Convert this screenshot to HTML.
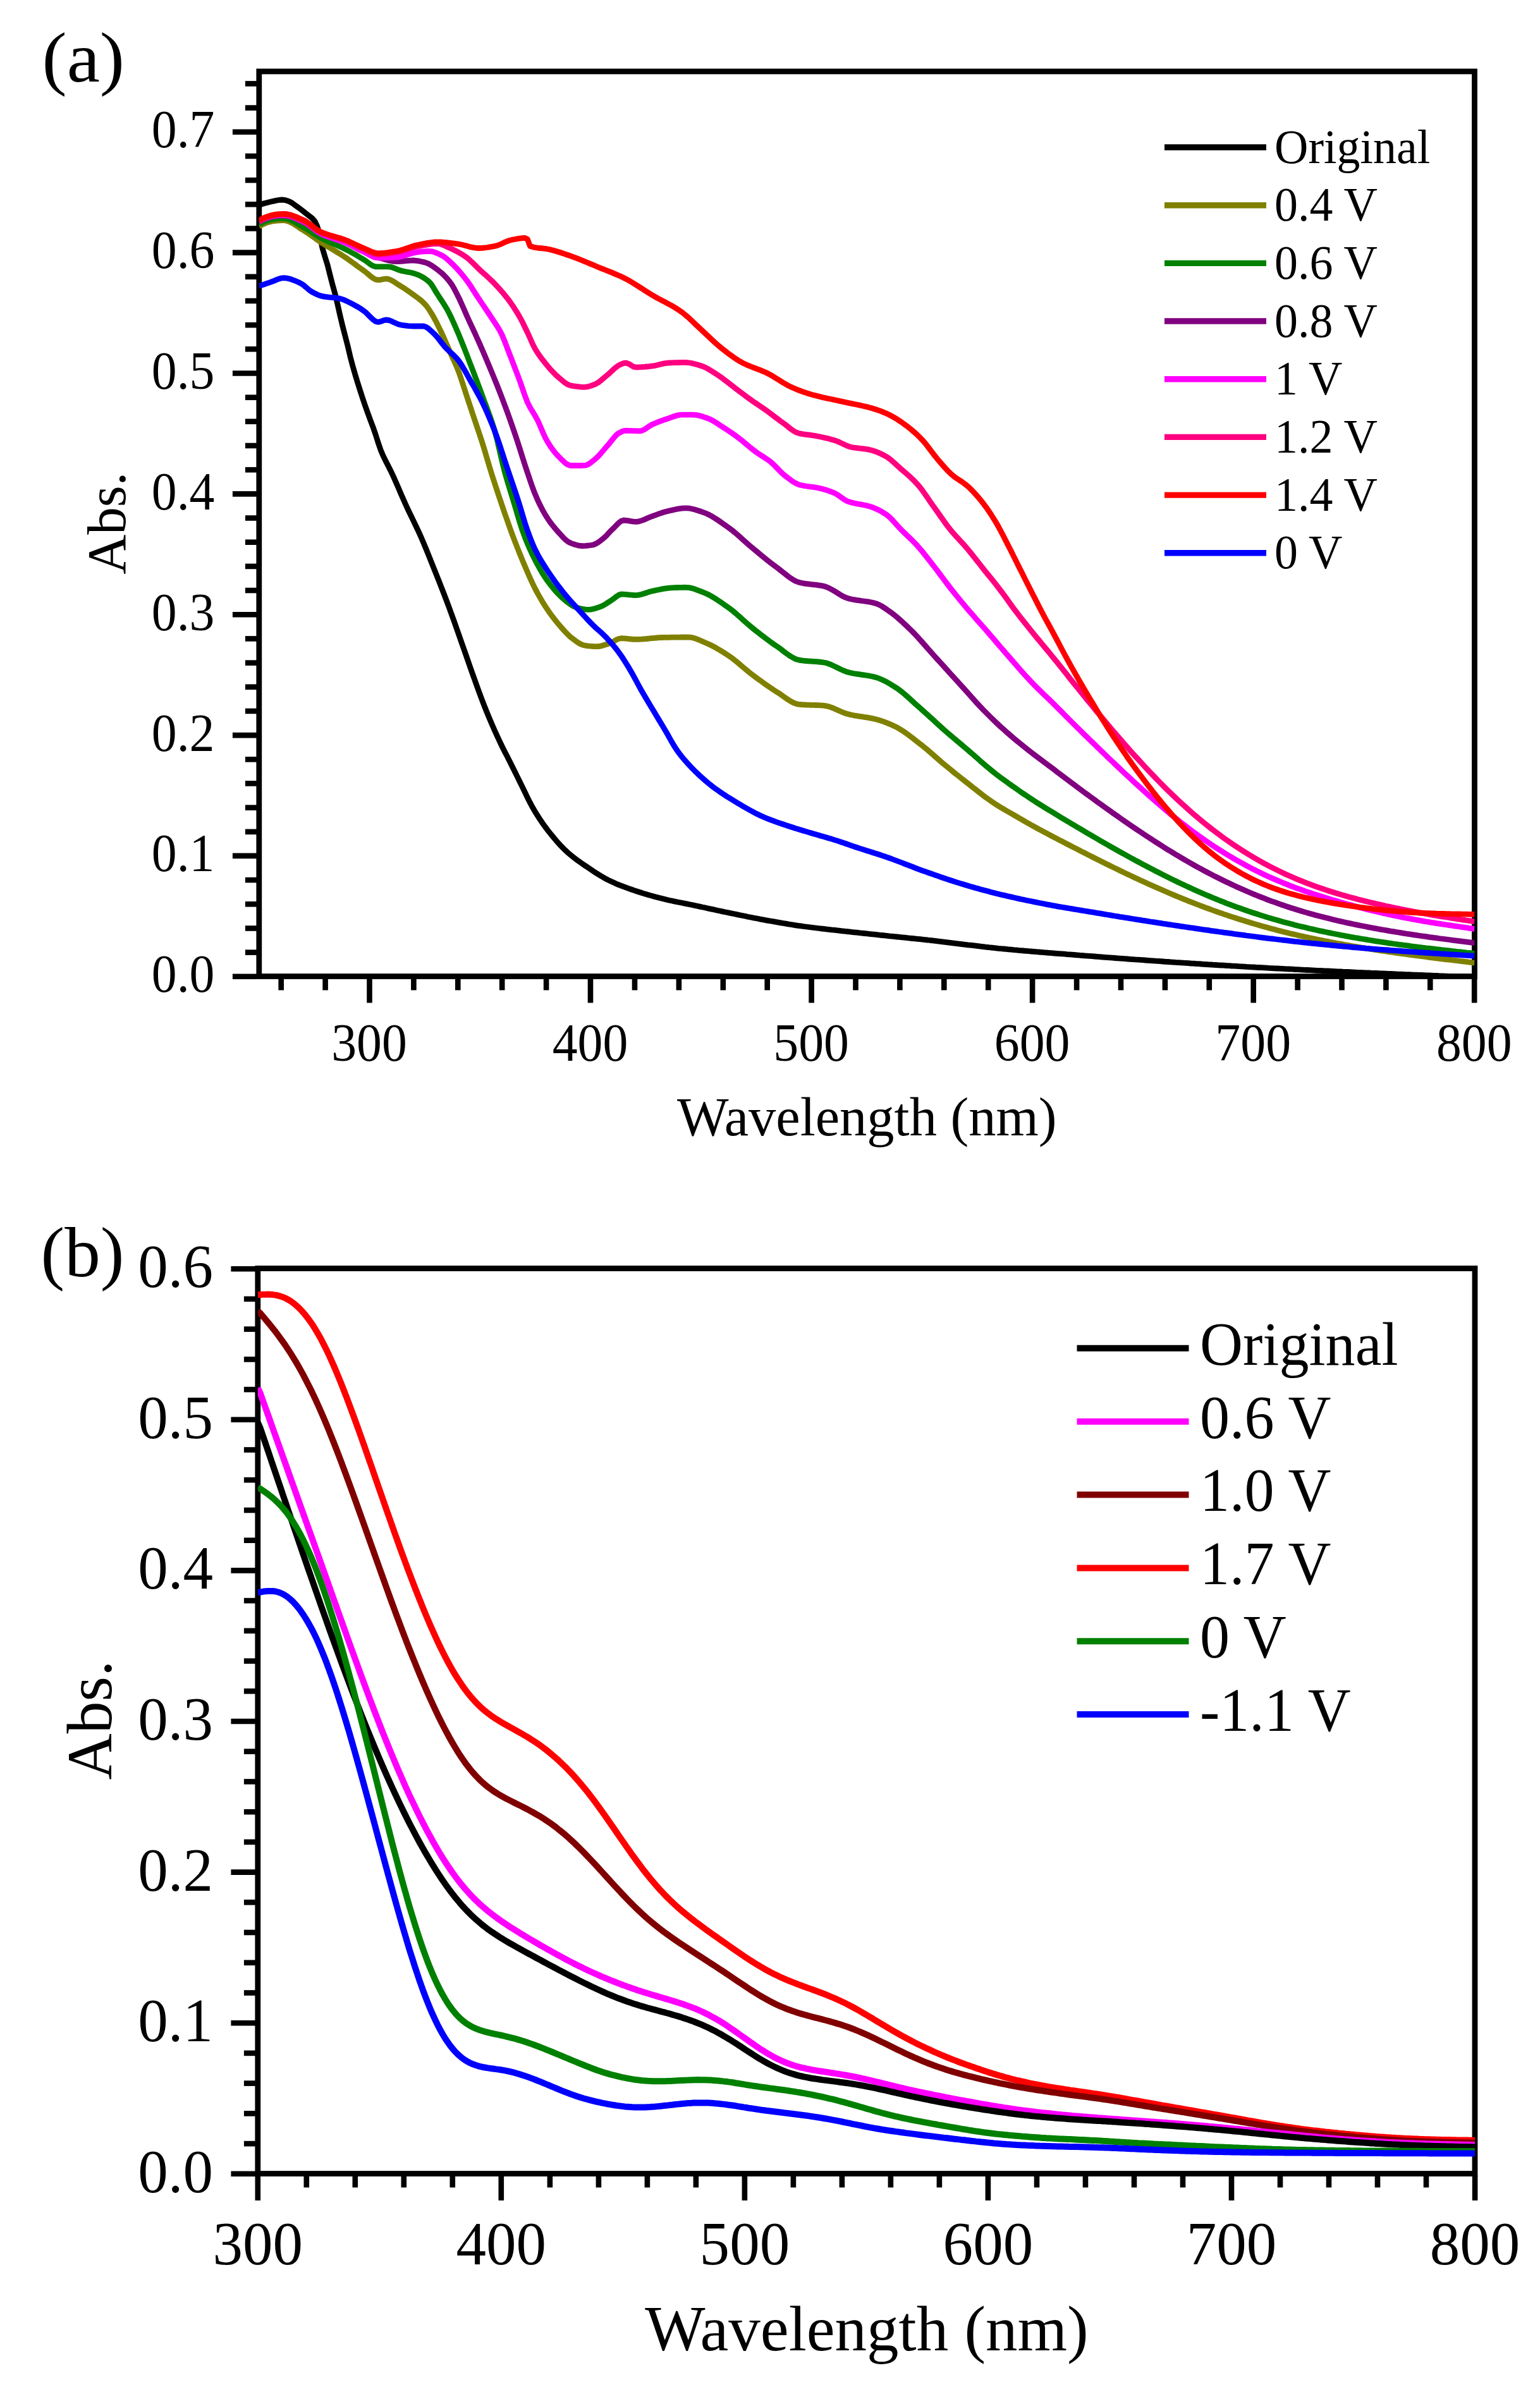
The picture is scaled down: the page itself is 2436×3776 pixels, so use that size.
<!DOCTYPE html>
<html lang="en"><head><meta charset="utf-8"><title>UV-vis absorption spectra</title>
<style>html,body{margin:0;padding:0;background:#fff}svg{display:block}text{font-family:"Liberation Serif", serif;fill:#000}</style>
</head><body>
<svg width="2436" height="3776" viewBox="0 0 2436 3776">
<rect width="2436" height="3776" fill="#fff"/>
<rect x="409.8" y="113.0" width="1922.7" height="1431.5" fill="none" stroke="#000" stroke-width="8.8"/>
<clipPath id="ca"><rect x="409.8" y="113.0" width="1922.7" height="1431.5"/></clipPath>
<g clip-path="url(#ca)" fill="none" stroke-width="8.8" stroke-linejoin="round" stroke-linecap="butt">
<path d="M409.8 324.3 L413.8 323.0 L417.8 321.8 L421.8 320.7 L425.8 319.7 L429.8 318.8 L433.8 317.9 L437.8 317.0 L441.8 316.4 L445.9 316.0 L449.9 316.3 L453.9 317.4 L457.9 318.9 L461.9 321.0 L465.9 324.0 L469.9 326.9 L473.9 329.8 L477.9 332.8 L481.9 335.9 L485.9 339.1 L489.9 342.2 L493.9 345.3 L497.9 349.9 L501.9 358.2 L505.9 372.0 L509.9 392.2 L513.9 405.8 L518.0 418.9 L522.0 434.9 L526.0 450.4 L530.0 464.7 L534.0 481.6 L538.0 499.5 L542.0 516.1 L546.0 531.6 L550.0 547.0 L554.0 564.1 L558.0 579.3 L562.0 593.2 L566.0 606.3 L570.0 618.9 L574.0 631.1 L578.0 642.9 L582.0 654.0 L586.0 664.9 L590.1 675.8 L594.1 687.2 L598.1 700.0 L602.1 711.7 L606.1 721.1 L610.1 729.3 L614.1 737.1 L618.1 744.9 L622.1 753.4 L626.1 762.4 L630.1 771.6 L634.1 780.9 L638.1 790.0 L642.1 799.0 L646.1 807.6 L650.1 815.9 L654.1 824.2 L658.1 832.5 L662.2 841.1 L666.2 850.0 L670.2 859.4 L674.2 869.0 L678.2 878.8 L682.2 888.8 L686.2 898.8 L690.2 908.8 L694.2 918.9 L698.2 929.1 L702.2 939.4 L706.2 949.9 L710.2 960.5 L714.2 971.4 L718.2 982.6 L722.2 993.9 L726.2 1005.3 L730.2 1016.7 L734.3 1028.2 L738.3 1039.7 L742.3 1051.2 L746.3 1062.7 L750.3 1073.8 L754.3 1084.9 L758.3 1095.9 L762.3 1106.7 L766.3 1117.1 L770.3 1127.1 L774.3 1136.7 L778.3 1146.1 L782.3 1155.2 L786.3 1164.0 L790.3 1172.6 L794.3 1181.0 L798.3 1188.9 L802.4 1196.7 L806.4 1204.7 L810.4 1212.8 L814.4 1220.8 L818.4 1228.9 L822.4 1237.0 L826.4 1245.1 L830.4 1253.4 L834.4 1261.8 L838.4 1269.7 L842.4 1277.1 L846.4 1283.9 L850.4 1290.4 L854.4 1296.6 L858.4 1302.4 L862.4 1308.0 L866.4 1313.3 L870.4 1318.4 L874.5 1323.4 L878.5 1328.2 L882.5 1332.8 L886.5 1337.2 L890.5 1341.4 L894.5 1345.3 L898.5 1349.0 L902.5 1352.4 L906.5 1355.6 L910.5 1358.7 L914.5 1361.7 L918.5 1364.5 L922.5 1367.3 L926.5 1370.0 L930.5 1372.7 L934.5 1375.4 L938.5 1378.1 L942.5 1380.7 L946.6 1383.3 L950.6 1385.7 L954.6 1388.1 L958.6 1390.3 L962.6 1392.4 L966.6 1394.3 L970.6 1396.1 L974.6 1397.9 L978.6 1399.6 L982.6 1401.2 L986.6 1402.7 L990.6 1404.2 L994.6 1405.6 L998.6 1407.0 L1002.6 1408.4 L1006.6 1409.7 L1010.6 1411.0 L1014.6 1412.3 L1018.7 1413.6 L1022.7 1414.8 L1026.7 1415.9 L1030.7 1417.1 L1034.7 1418.2 L1038.7 1419.3 L1042.7 1420.3 L1046.7 1421.3 L1050.7 1422.3 L1054.7 1423.3 L1058.7 1424.2 L1062.7 1425.0 L1066.7 1425.9 L1070.7 1426.7 L1074.7 1427.5 L1078.7 1428.3 L1082.7 1429.1 L1086.8 1429.9 L1090.8 1430.7 L1094.8 1431.5 L1098.8 1432.4 L1102.8 1433.2 L1106.8 1434.1 L1110.8 1435.0 L1114.8 1435.8 L1118.8 1436.7 L1122.8 1437.6 L1126.8 1438.4 L1130.8 1439.3 L1134.8 1440.2 L1138.8 1441.0 L1142.8 1441.9 L1146.8 1442.7 L1150.8 1443.5 L1154.8 1444.4 L1158.9 1445.2 L1162.9 1446.0 L1166.9 1446.9 L1170.9 1447.7 L1174.9 1448.5 L1178.9 1449.3 L1182.9 1450.2 L1186.9 1451.0 L1190.9 1451.8 L1194.9 1452.5 L1198.9 1453.3 L1202.9 1454.1 L1206.9 1454.8 L1210.9 1455.6 L1214.9 1456.3 L1218.9 1457.0 L1222.9 1457.7 L1226.9 1458.4 L1231.0 1459.1 L1235.0 1459.8 L1239.0 1460.5 L1243.0 1461.2 L1247.0 1461.9 L1251.0 1462.5 L1255.0 1463.2 L1259.0 1463.8 L1263.0 1464.4 L1267.0 1464.9 L1271.0 1465.5 L1275.0 1466.0 L1279.0 1466.5 L1283.0 1467.0 L1287.0 1467.5 L1291.0 1468.0 L1295.0 1468.5 L1299.0 1469.0 L1303.1 1469.4 L1307.1 1469.9 L1311.1 1470.3 L1315.1 1470.8 L1319.1 1471.2 L1323.1 1471.7 L1327.1 1472.1 L1331.1 1472.6 L1335.1 1473.0 L1339.1 1473.5 L1343.1 1473.9 L1347.1 1474.4 L1351.1 1474.8 L1355.1 1475.2 L1359.1 1475.7 L1363.1 1476.1 L1367.1 1476.5 L1371.2 1476.9 L1375.2 1477.4 L1379.2 1477.8 L1383.2 1478.2 L1387.2 1478.6 L1391.2 1479.1 L1395.2 1479.5 L1399.2 1479.9 L1403.2 1480.3 L1407.2 1480.8 L1411.2 1481.2 L1415.2 1481.6 L1419.2 1482.0 L1423.2 1482.4 L1427.2 1482.8 L1431.2 1483.2 L1435.2 1483.7 L1439.2 1484.1 L1443.3 1484.5 L1447.3 1484.9 L1451.3 1485.3 L1455.3 1485.7 L1459.3 1486.2 L1463.3 1486.6 L1467.3 1487.0 L1471.3 1487.5 L1475.3 1487.9 L1479.3 1488.4 L1483.3 1488.9 L1487.3 1489.3 L1491.3 1489.8 L1495.3 1490.3 L1499.3 1490.8 L1503.3 1491.3 L1507.3 1491.8 L1511.3 1492.3 L1515.4 1492.8 L1519.4 1493.3 L1523.4 1493.8 L1527.4 1494.3 L1531.4 1494.8 L1535.4 1495.2 L1539.4 1495.7 L1543.4 1496.2 L1547.4 1496.7 L1551.4 1497.2 L1555.4 1497.6 L1559.4 1498.1 L1563.4 1498.5 L1567.4 1499.0 L1571.4 1499.4 L1575.4 1499.8 L1579.4 1500.3 L1583.4 1500.7 L1587.5 1501.0 L1591.5 1501.4 L1595.5 1501.8 L1599.5 1502.2 L1603.5 1502.6 L1607.5 1502.9 L1611.5 1503.3 L1615.5 1503.6 L1619.5 1504.0 L1623.5 1504.3 L1627.5 1504.7 L1631.5 1505.0 L1635.5 1505.3 L1639.5 1505.7 L1643.5 1506.0 L1647.5 1506.3 L1651.5 1506.7 L1655.5 1507.0 L1659.6 1507.3 L1663.6 1507.6 L1667.6 1508.0 L1671.6 1508.3 L1675.6 1508.6 L1679.6 1508.9 L1683.6 1509.2 L1687.6 1509.6 L1691.6 1509.9 L1695.6 1510.2 L1699.6 1510.5 L1703.6 1510.8 L1707.6 1511.2 L1711.6 1511.5 L1715.6 1511.8 L1719.6 1512.1 L1723.6 1512.4 L1727.7 1512.7 L1731.7 1513.0 L1735.7 1513.3 L1739.7 1513.6 L1743.7 1514.0 L1747.7 1514.3 L1751.7 1514.6 L1755.7 1514.9 L1759.7 1515.2 L1763.7 1515.5 L1767.7 1515.8 L1771.7 1516.1 L1775.7 1516.4 L1779.7 1516.7 L1783.7 1517.0 L1787.7 1517.3 L1791.7 1517.6 L1795.7 1517.9 L1799.8 1518.1 L1803.8 1518.4 L1807.8 1518.7 L1811.8 1519.0 L1815.8 1519.3 L1819.8 1519.6 L1823.8 1519.9 L1827.8 1520.2 L1831.8 1520.4 L1835.8 1520.7 L1839.8 1521.0 L1843.8 1521.3 L1847.8 1521.5 L1851.8 1521.8 L1855.8 1522.1 L1859.8 1522.4 L1863.8 1522.6 L1867.8 1522.9 L1871.9 1523.2 L1875.9 1523.4 L1879.9 1523.7 L1883.9 1524.0 L1887.9 1524.2 L1891.9 1524.5 L1895.9 1524.7 L1899.9 1525.0 L1903.9 1525.3 L1907.9 1525.5 L1911.9 1525.8 L1915.9 1526.0 L1919.9 1526.3 L1923.9 1526.5 L1927.9 1526.8 L1931.9 1527.0 L1935.9 1527.2 L1939.9 1527.5 L1944.0 1527.7 L1948.0 1528.0 L1952.0 1528.2 L1956.0 1528.4 L1960.0 1528.7 L1964.0 1528.9 L1968.0 1529.1 L1972.0 1529.4 L1976.0 1529.6 L1980.0 1529.8 L1984.0 1530.0 L1988.0 1530.3 L1992.0 1530.5 L1996.0 1530.7 L2000.0 1530.9 L2004.0 1531.1 L2008.0 1531.4 L2012.0 1531.6 L2016.1 1531.8 L2020.1 1532.0 L2024.1 1532.2 L2028.1 1532.4 L2032.1 1532.6 L2036.1 1532.8 L2040.1 1533.0 L2044.1 1533.2 L2048.1 1533.5 L2052.1 1533.7 L2056.1 1533.9 L2060.1 1534.1 L2064.1 1534.3 L2068.1 1534.5 L2072.1 1534.7 L2076.1 1534.9 L2080.1 1535.1 L2084.2 1535.3 L2088.2 1535.4 L2092.2 1535.6 L2096.2 1535.8 L2100.2 1536.0 L2104.2 1536.2 L2108.2 1536.4 L2112.2 1536.6 L2116.2 1536.8 L2120.2 1537.0 L2124.2 1537.2 L2128.2 1537.3 L2132.2 1537.5 L2136.2 1537.7 L2140.2 1537.9 L2144.2 1538.1 L2148.2 1538.3 L2152.2 1538.4 L2156.3 1538.6 L2160.3 1538.8 L2164.3 1539.0 L2168.3 1539.2 L2172.3 1539.3 L2176.3 1539.5 L2180.3 1539.7 L2184.3 1539.9 L2188.3 1540.0 L2192.3 1540.2 L2196.3 1540.4 L2200.3 1540.5 L2204.3 1540.7 L2208.3 1540.9 L2212.3 1541.1 L2216.3 1541.2 L2220.3 1541.4 L2224.3 1541.6 L2228.4 1541.7 L2232.4 1541.9 L2236.4 1542.1 L2240.4 1542.2 L2244.4 1542.4 L2248.4 1542.5 L2252.4 1542.7 L2256.4 1542.9 L2260.4 1543.0 L2264.4 1543.2 L2268.4 1543.4 L2272.4 1543.5 L2276.4 1543.7 L2280.4 1543.8 L2284.4 1544.0 L2288.4 1544.1 L2292.4 1544.3 L2296.4 1544.5 L2300.5 1544.6 L2304.5 1544.8 L2308.5 1544.9 L2312.5 1545.1 L2316.5 1545.3 L2320.5 1545.4 L2324.5 1545.6 L2328.5 1545.7 L2332.5 1545.9" stroke="#000000"/>
<path d="M409.8 358.3 L413.8 355.9 L417.8 354.0 L421.8 352.4 L425.8 351.1 L429.8 350.2 L433.8 349.5 L437.8 349.1 L441.8 348.8 L445.9 348.7 L449.9 348.7 L453.9 349.4 L457.9 350.8 L461.9 352.8 L465.9 355.1 L469.9 357.7 L473.9 360.5 L477.9 363.1 L481.9 365.5 L485.9 368.1 L489.9 370.8 L493.9 373.6 L497.9 376.5 L501.9 379.4 L505.9 382.1 L509.9 384.7 L513.9 387.2 L518.0 389.7 L522.0 392.1 L526.0 394.5 L530.0 396.9 L534.0 399.4 L538.0 401.8 L542.0 404.4 L546.0 407.0 L550.0 409.7 L554.0 412.6 L558.0 415.5 L562.0 418.4 L566.0 421.4 L570.0 424.3 L574.0 427.1 L578.0 430.0 L582.0 433.4 L586.0 436.9 L590.1 439.9 L594.1 442.1 L598.1 442.9 L602.1 442.5 L606.1 441.6 L610.1 441.0 L614.1 441.4 L618.1 442.8 L622.1 445.0 L626.1 447.6 L630.1 450.3 L634.1 452.8 L638.1 455.2 L642.1 457.9 L646.1 460.6 L650.1 463.5 L654.1 466.4 L658.1 469.3 L662.2 472.3 L666.2 475.5 L670.2 479.2 L674.2 483.5 L678.2 489.0 L682.2 495.3 L686.2 502.1 L690.2 509.5 L694.2 517.6 L698.2 526.0 L702.2 534.7 L706.2 543.9 L710.2 553.1 L714.2 562.1 L718.2 570.7 L722.2 579.7 L726.2 589.8 L730.2 601.6 L734.3 614.1 L738.3 626.4 L742.3 638.5 L746.3 650.6 L750.3 662.6 L754.3 674.5 L758.3 686.4 L762.3 698.5 L766.3 711.4 L770.3 725.0 L774.3 738.5 L778.3 751.5 L782.3 763.9 L786.3 776.2 L790.3 788.2 L794.3 800.0 L798.3 811.8 L802.4 823.4 L806.4 834.7 L810.4 845.7 L814.4 856.3 L818.4 866.5 L822.4 876.5 L826.4 886.3 L830.4 895.7 L834.4 905.1 L838.4 914.2 L842.4 922.9 L846.4 931.1 L850.4 938.6 L854.4 945.7 L858.4 952.5 L862.4 958.9 L866.4 964.9 L870.4 970.7 L874.5 976.1 L878.5 981.3 L882.5 986.2 L886.5 990.9 L890.5 995.5 L894.5 999.9 L898.5 1004.0 L902.5 1007.7 L906.5 1010.8 L910.5 1013.8 L914.5 1016.6 L918.5 1018.9 L922.5 1020.5 L926.5 1021.3 L930.5 1021.8 L934.5 1022.2 L938.5 1022.5 L942.5 1022.7 L946.6 1022.6 L950.6 1021.9 L954.6 1020.8 L958.6 1019.5 L962.6 1018.2 L966.6 1016.7 L970.6 1014.6 L974.6 1012.3 L978.6 1010.5 L982.6 1009.7 L986.6 1009.8 L990.6 1010.1 L994.6 1010.6 L998.6 1011.0 L1002.6 1011.3 L1006.6 1011.4 L1010.6 1011.3 L1014.6 1011.1 L1018.7 1010.8 L1022.7 1010.5 L1026.7 1010.1 L1030.7 1009.7 L1034.7 1009.3 L1038.7 1009.0 L1042.7 1008.7 L1046.7 1008.5 L1050.7 1008.4 L1054.7 1008.4 L1058.7 1008.3 L1062.7 1008.2 L1066.7 1008.2 L1070.7 1008.1 L1074.7 1008.1 L1078.7 1008.0 L1082.7 1008.0 L1086.8 1008.0 L1090.8 1008.1 L1094.8 1008.6 L1098.8 1009.7 L1102.8 1011.1 L1106.8 1012.8 L1110.8 1014.6 L1114.8 1016.3 L1118.8 1018.0 L1122.8 1019.8 L1126.8 1021.8 L1130.8 1023.9 L1134.8 1026.2 L1138.8 1028.5 L1142.8 1031.0 L1146.8 1033.5 L1150.8 1036.1 L1154.8 1038.8 L1158.9 1041.8 L1162.9 1044.9 L1166.9 1048.2 L1170.9 1051.6 L1174.9 1055.0 L1178.9 1058.3 L1182.9 1061.7 L1186.9 1064.9 L1190.9 1067.9 L1194.9 1070.9 L1198.9 1073.9 L1202.9 1076.8 L1206.9 1079.7 L1210.9 1082.6 L1214.9 1085.4 L1218.9 1088.1 L1222.9 1090.8 L1226.9 1093.4 L1231.0 1095.9 L1235.0 1098.6 L1239.0 1101.5 L1243.0 1104.3 L1247.0 1107.0 L1251.0 1109.5 L1255.0 1111.6 L1259.0 1113.2 L1263.0 1114.1 L1267.0 1114.5 L1271.0 1114.8 L1275.0 1115.0 L1279.0 1115.1 L1283.0 1115.3 L1287.0 1115.4 L1291.0 1115.5 L1295.0 1115.7 L1299.0 1115.9 L1303.1 1116.2 L1307.1 1116.8 L1311.1 1117.8 L1315.1 1119.1 L1319.1 1120.7 L1323.1 1122.5 L1327.1 1124.3 L1331.1 1126.0 L1335.1 1127.6 L1339.1 1129.0 L1343.1 1130.1 L1347.1 1131.0 L1351.1 1131.8 L1355.1 1132.4 L1359.1 1133.1 L1363.1 1133.7 L1367.1 1134.3 L1371.2 1134.9 L1375.2 1135.6 L1379.2 1136.4 L1383.2 1137.3 L1387.2 1138.3 L1391.2 1139.4 L1395.2 1140.7 L1399.2 1142.1 L1403.2 1143.7 L1407.2 1145.3 L1411.2 1147.1 L1415.2 1148.9 L1419.2 1150.9 L1423.2 1153.2 L1427.2 1155.7 L1431.2 1158.4 L1435.2 1161.3 L1439.2 1164.3 L1443.3 1167.3 L1447.3 1170.4 L1451.3 1173.6 L1455.3 1176.7 L1459.3 1179.8 L1463.3 1183.1 L1467.3 1186.4 L1471.3 1189.9 L1475.3 1193.4 L1479.3 1196.9 L1483.3 1200.4 L1487.3 1203.9 L1491.3 1207.3 L1495.3 1210.6 L1499.3 1213.9 L1503.3 1217.2 L1507.3 1220.5 L1511.3 1223.7 L1515.4 1226.9 L1519.4 1230.1 L1523.4 1233.3 L1527.4 1236.5 L1531.4 1239.6 L1535.4 1242.8 L1539.4 1245.9 L1543.4 1249.0 L1547.4 1252.2 L1551.4 1255.3 L1555.4 1258.4 L1559.4 1261.4 L1563.4 1264.3 L1567.4 1267.1 L1571.4 1269.9 L1575.4 1272.5 L1579.4 1275.0 L1583.4 1277.5 L1587.5 1279.9 L1591.5 1282.2 L1595.5 1284.5 L1599.5 1286.8 L1603.5 1289.1 L1607.5 1291.4 L1611.5 1293.7 L1615.5 1296.1 L1619.5 1298.4 L1623.5 1300.7 L1627.5 1302.9 L1631.5 1305.2 L1635.5 1307.4 L1639.5 1309.6 L1643.5 1311.8 L1647.5 1313.9 L1651.5 1316.1 L1655.5 1318.2 L1659.6 1320.4 L1663.6 1322.5 L1667.6 1324.6 L1671.6 1326.7 L1675.6 1328.8 L1679.6 1330.8 L1683.6 1332.9 L1687.6 1335.0 L1691.6 1337.0 L1695.6 1339.1 L1699.6 1341.1 L1703.6 1343.2 L1707.6 1345.2 L1711.6 1347.3 L1715.6 1349.3 L1719.6 1351.4 L1723.6 1353.4 L1727.7 1355.5 L1731.7 1357.5 L1735.7 1359.5 L1739.7 1361.5 L1743.7 1363.5 L1747.7 1365.5 L1751.7 1367.5 L1755.7 1369.5 L1759.7 1371.4 L1763.7 1373.4 L1767.7 1375.3 L1771.7 1377.3 L1775.7 1379.2 L1779.7 1381.1 L1783.7 1383.0 L1787.7 1384.9 L1791.7 1386.8 L1795.7 1388.7 L1799.8 1390.6 L1803.8 1392.4 L1807.8 1394.3 L1811.8 1396.1 L1815.8 1397.9 L1819.8 1399.7 L1823.8 1401.5 L1827.8 1403.3 L1831.8 1405.1 L1835.8 1406.8 L1839.8 1408.6 L1843.8 1410.3 L1847.8 1412.0 L1851.8 1413.7 L1855.8 1415.4 L1859.8 1417.1 L1863.8 1418.8 L1867.8 1420.4 L1871.9 1422.1 L1875.9 1423.7 L1879.9 1425.3 L1883.9 1426.9 L1887.9 1428.4 L1891.9 1430.0 L1895.9 1431.5 L1899.9 1433.1 L1903.9 1434.6 L1907.9 1436.1 L1911.9 1437.5 L1915.9 1439.0 L1919.9 1440.5 L1923.9 1441.9 L1927.9 1443.3 L1931.9 1444.7 L1935.9 1446.1 L1939.9 1447.4 L1944.0 1448.8 L1948.0 1450.1 L1952.0 1451.4 L1956.0 1452.7 L1960.0 1454.0 L1964.0 1455.3 L1968.0 1456.5 L1972.0 1457.8 L1976.0 1459.0 L1980.0 1460.2 L1984.0 1461.4 L1988.0 1462.6 L1992.0 1463.7 L1996.0 1464.9 L2000.0 1466.0 L2004.0 1467.1 L2008.0 1468.2 L2012.0 1469.3 L2016.1 1470.3 L2020.1 1471.4 L2024.1 1472.4 L2028.1 1473.4 L2032.1 1474.4 L2036.1 1475.4 L2040.1 1476.4 L2044.1 1477.4 L2048.1 1478.3 L2052.1 1479.2 L2056.1 1480.2 L2060.1 1481.1 L2064.1 1482.0 L2068.1 1482.8 L2072.1 1483.7 L2076.1 1484.6 L2080.1 1485.4 L2084.2 1486.2 L2088.2 1487.1 L2092.2 1487.9 L2096.2 1488.7 L2100.2 1489.4 L2104.2 1490.2 L2108.2 1491.0 L2112.2 1491.7 L2116.2 1492.5 L2120.2 1493.2 L2124.2 1493.9 L2128.2 1494.7 L2132.2 1495.4 L2136.2 1496.1 L2140.2 1496.8 L2144.2 1497.4 L2148.2 1498.1 L2152.2 1498.8 L2156.3 1499.4 L2160.3 1500.1 L2164.3 1500.7 L2168.3 1501.3 L2172.3 1502.0 L2176.3 1502.6 L2180.3 1503.2 L2184.3 1503.8 L2188.3 1504.4 L2192.3 1505.0 L2196.3 1505.6 L2200.3 1506.2 L2204.3 1506.7 L2208.3 1507.3 L2212.3 1507.9 L2216.3 1508.4 L2220.3 1509.0 L2224.3 1509.5 L2228.4 1510.1 L2232.4 1510.6 L2236.4 1511.1 L2240.4 1511.7 L2244.4 1512.2 L2248.4 1512.7 L2252.4 1513.2 L2256.4 1513.7 L2260.4 1514.3 L2264.4 1514.8 L2268.4 1515.3 L2272.4 1515.8 L2276.4 1516.3 L2280.4 1516.8 L2284.4 1517.3 L2288.4 1517.8 L2292.4 1518.2 L2296.4 1518.7 L2300.5 1519.2 L2304.5 1519.7 L2308.5 1520.2 L2312.5 1520.7 L2316.5 1521.2 L2320.5 1521.6 L2324.5 1522.1 L2328.5 1522.6 L2332.5 1523.0" stroke="#808000"/>
<path d="M409.8 354.9 L413.8 352.7 L417.8 350.8 L421.8 349.2 L425.8 348.0 L429.8 347.1 L433.8 346.4 L437.8 345.9 L441.8 345.7 L445.9 345.5 L449.9 345.5 L453.9 346.1 L457.9 347.4 L461.9 349.1 L465.9 351.2 L469.9 353.5 L473.9 355.9 L477.9 358.3 L481.9 360.5 L485.9 362.8 L489.9 365.3 L493.9 367.9 L497.9 370.5 L501.9 373.1 L505.9 375.4 L509.9 377.5 L513.9 379.5 L518.0 381.4 L522.0 383.1 L526.0 384.9 L530.0 386.6 L534.0 388.4 L538.0 390.2 L542.0 392.0 L546.0 394.0 L550.0 396.1 L554.0 398.2 L558.0 400.5 L562.0 402.7 L566.0 405.0 L570.0 407.4 L574.0 409.7 L578.0 412.2 L582.0 415.2 L586.0 418.2 L590.1 420.6 L594.1 421.8 L598.1 421.8 L602.1 421.8 L606.1 421.8 L610.1 421.8 L614.1 421.8 L618.1 422.3 L622.1 423.6 L626.1 425.2 L630.1 426.8 L634.1 428.1 L638.1 429.0 L642.1 429.8 L646.1 430.5 L650.1 431.3 L654.1 432.3 L658.1 433.6 L662.2 435.1 L666.2 437.1 L670.2 439.4 L674.2 442.1 L678.2 445.3 L682.2 449.6 L686.2 455.9 L690.2 462.7 L694.2 469.0 L698.2 475.0 L702.2 481.1 L706.2 487.7 L710.2 495.0 L714.2 503.2 L718.2 512.0 L722.2 521.3 L726.2 530.6 L730.2 540.5 L734.3 550.6 L738.3 561.0 L742.3 571.5 L746.3 581.9 L750.3 592.4 L754.3 602.9 L758.3 613.6 L762.3 624.4 L766.3 635.3 L770.3 645.9 L774.3 656.7 L778.3 668.1 L782.3 680.7 L786.3 695.5 L790.3 712.7 L794.3 730.3 L798.3 746.3 L802.4 760.5 L806.4 773.8 L810.4 786.8 L814.4 799.9 L818.4 813.5 L822.4 827.0 L826.4 839.3 L830.4 850.0 L834.4 860.0 L838.4 869.2 L842.4 877.8 L846.4 885.8 L850.4 893.4 L854.4 900.6 L858.4 907.4 L862.4 913.7 L866.4 919.4 L870.4 924.7 L874.5 929.8 L878.5 934.6 L882.5 939.0 L886.5 943.0 L890.5 946.7 L894.5 950.0 L898.5 953.3 L902.5 956.3 L906.5 958.8 L910.5 960.6 L914.5 961.7 L918.5 962.7 L922.5 963.5 L926.5 964.1 L930.5 964.3 L934.5 964.1 L938.5 963.3 L942.5 962.2 L946.6 960.8 L950.6 959.4 L954.6 957.6 L958.6 955.2 L962.6 952.5 L966.6 950.0 L970.6 947.2 L974.6 944.0 L978.6 941.3 L982.6 940.0 L986.6 940.1 L990.6 940.4 L994.6 940.8 L998.6 941.2 L1002.6 941.5 L1006.6 941.6 L1010.6 941.1 L1014.6 940.2 L1018.7 939.0 L1022.7 937.7 L1026.7 936.3 L1030.7 935.2 L1034.7 934.4 L1038.7 933.5 L1042.7 932.7 L1046.7 931.9 L1050.7 931.2 L1054.7 930.6 L1058.7 930.2 L1062.7 929.9 L1066.7 929.7 L1070.7 929.5 L1074.7 929.4 L1078.7 929.3 L1082.7 929.2 L1086.8 929.3 L1090.8 929.7 L1094.8 930.6 L1098.8 931.8 L1102.8 933.3 L1106.8 934.8 L1110.8 936.4 L1114.8 938.0 L1118.8 939.8 L1122.8 941.8 L1126.8 944.1 L1130.8 946.5 L1134.8 949.1 L1138.8 951.7 L1142.8 954.5 L1146.8 957.3 L1150.8 960.1 L1154.8 963.0 L1158.9 966.2 L1162.9 969.5 L1166.9 973.0 L1170.9 976.6 L1174.9 980.2 L1178.9 983.8 L1182.9 987.3 L1186.9 990.7 L1190.9 994.0 L1194.9 997.2 L1198.9 1000.3 L1202.9 1003.4 L1206.9 1006.5 L1210.9 1009.6 L1214.9 1012.6 L1218.9 1015.5 L1222.9 1018.4 L1226.9 1021.2 L1231.0 1023.9 L1235.0 1026.8 L1239.0 1029.9 L1243.0 1032.9 L1247.0 1035.8 L1251.0 1038.5 L1255.0 1040.8 L1259.0 1042.7 L1263.0 1043.9 L1267.0 1044.6 L1271.0 1045.1 L1275.0 1045.5 L1279.0 1045.8 L1283.0 1046.1 L1287.0 1046.4 L1291.0 1046.7 L1295.0 1047.0 L1299.0 1047.4 L1303.1 1048.0 L1307.1 1048.8 L1311.1 1050.1 L1315.1 1051.7 L1319.1 1053.6 L1323.1 1055.5 L1327.1 1057.5 L1331.1 1059.4 L1335.1 1061.2 L1339.1 1062.7 L1343.1 1063.8 L1347.1 1064.7 L1351.1 1065.5 L1355.1 1066.1 L1359.1 1066.7 L1363.1 1067.3 L1367.1 1067.9 L1371.2 1068.5 L1375.2 1069.2 L1379.2 1070.0 L1383.2 1070.9 L1387.2 1072.0 L1391.2 1073.5 L1395.2 1075.2 L1399.2 1077.1 L1403.2 1079.2 L1407.2 1081.5 L1411.2 1083.9 L1415.2 1086.4 L1419.2 1089.0 L1423.2 1091.9 L1427.2 1095.0 L1431.2 1098.4 L1435.2 1101.9 L1439.2 1105.5 L1443.3 1109.2 L1447.3 1112.9 L1451.3 1116.5 L1455.3 1120.1 L1459.3 1123.6 L1463.3 1127.2 L1467.3 1130.8 L1471.3 1134.5 L1475.3 1138.1 L1479.3 1141.8 L1483.3 1145.4 L1487.3 1149.1 L1491.3 1152.7 L1495.3 1156.2 L1499.3 1159.7 L1503.3 1163.1 L1507.3 1166.5 L1511.3 1169.9 L1515.4 1173.3 L1519.4 1176.7 L1523.4 1180.1 L1527.4 1183.5 L1531.4 1186.9 L1535.4 1190.3 L1539.4 1193.8 L1543.4 1197.3 L1547.4 1200.8 L1551.4 1204.4 L1555.4 1207.9 L1559.4 1211.3 L1563.4 1214.7 L1567.4 1218.0 L1571.4 1221.2 L1575.4 1224.4 L1579.4 1227.4 L1583.4 1230.5 L1587.5 1233.4 L1591.5 1236.3 L1595.5 1239.2 L1599.5 1242.1 L1603.5 1244.9 L1607.5 1247.7 L1611.5 1250.5 L1615.5 1253.3 L1619.5 1256.0 L1623.5 1258.7 L1627.5 1261.4 L1631.5 1264.0 L1635.5 1266.6 L1639.5 1269.2 L1643.5 1271.7 L1647.5 1274.2 L1651.5 1276.7 L1655.5 1279.2 L1659.6 1281.7 L1663.6 1284.1 L1667.6 1286.6 L1671.6 1289.0 L1675.6 1291.4 L1679.6 1293.9 L1683.6 1296.3 L1687.6 1298.7 L1691.6 1301.0 L1695.6 1303.4 L1699.6 1305.8 L1703.6 1308.2 L1707.6 1310.6 L1711.6 1312.9 L1715.6 1315.3 L1719.6 1317.7 L1723.6 1320.0 L1727.7 1322.4 L1731.7 1324.7 L1735.7 1327.0 L1739.7 1329.4 L1743.7 1331.7 L1747.7 1334.0 L1751.7 1336.3 L1755.7 1338.6 L1759.7 1340.8 L1763.7 1343.1 L1767.7 1345.4 L1771.7 1347.6 L1775.7 1349.8 L1779.7 1352.0 L1783.7 1354.3 L1787.7 1356.5 L1791.7 1358.6 L1795.7 1360.8 L1799.8 1363.0 L1803.8 1365.1 L1807.8 1367.3 L1811.8 1369.4 L1815.8 1371.5 L1819.8 1373.6 L1823.8 1375.7 L1827.8 1377.8 L1831.8 1379.8 L1835.8 1381.9 L1839.8 1383.9 L1843.8 1385.9 L1847.8 1387.9 L1851.8 1389.9 L1855.8 1391.9 L1859.8 1393.8 L1863.8 1395.7 L1867.8 1397.6 L1871.9 1399.5 L1875.9 1401.4 L1879.9 1403.3 L1883.9 1405.1 L1887.9 1406.9 L1891.9 1408.7 L1895.9 1410.5 L1899.9 1412.3 L1903.9 1414.0 L1907.9 1415.7 L1911.9 1417.4 L1915.9 1419.1 L1919.9 1420.8 L1923.9 1422.4 L1927.9 1424.0 L1931.9 1425.6 L1935.9 1427.2 L1939.9 1428.8 L1944.0 1430.3 L1948.0 1431.8 L1952.0 1433.3 L1956.0 1434.8 L1960.0 1436.2 L1964.0 1437.7 L1968.0 1439.1 L1972.0 1440.5 L1976.0 1441.9 L1980.0 1443.2 L1984.0 1444.5 L1988.0 1445.8 L1992.0 1447.1 L1996.0 1448.4 L2000.0 1449.6 L2004.0 1450.9 L2008.0 1452.1 L2012.0 1453.3 L2016.1 1454.4 L2020.1 1455.6 L2024.1 1456.7 L2028.1 1457.9 L2032.1 1458.9 L2036.1 1460.0 L2040.1 1461.1 L2044.1 1462.1 L2048.1 1463.2 L2052.1 1464.2 L2056.1 1465.2 L2060.1 1466.1 L2064.1 1467.1 L2068.1 1468.1 L2072.1 1469.0 L2076.1 1469.9 L2080.1 1470.8 L2084.2 1471.7 L2088.2 1472.6 L2092.2 1473.4 L2096.2 1474.3 L2100.2 1475.1 L2104.2 1475.9 L2108.2 1476.7 L2112.2 1477.5 L2116.2 1478.3 L2120.2 1479.1 L2124.2 1479.8 L2128.2 1480.6 L2132.2 1481.3 L2136.2 1482.1 L2140.2 1482.8 L2144.2 1483.5 L2148.2 1484.2 L2152.2 1484.9 L2156.3 1485.5 L2160.3 1486.2 L2164.3 1486.9 L2168.3 1487.5 L2172.3 1488.2 L2176.3 1488.8 L2180.3 1489.4 L2184.3 1490.0 L2188.3 1490.6 L2192.3 1491.2 L2196.3 1491.8 L2200.3 1492.4 L2204.3 1493.0 L2208.3 1493.5 L2212.3 1494.1 L2216.3 1494.6 L2220.3 1495.2 L2224.3 1495.7 L2228.4 1496.2 L2232.4 1496.8 L2236.4 1497.3 L2240.4 1497.8 L2244.4 1498.3 L2248.4 1498.8 L2252.4 1499.3 L2256.4 1499.8 L2260.4 1500.2 L2264.4 1500.7 L2268.4 1501.2 L2272.4 1501.7 L2276.4 1502.1 L2280.4 1502.6 L2284.4 1503.0 L2288.4 1503.5 L2292.4 1503.9 L2296.4 1504.4 L2300.5 1504.8 L2304.5 1505.3 L2308.5 1505.7 L2312.5 1506.2 L2316.5 1506.6 L2320.5 1507.1 L2324.5 1507.5 L2328.5 1507.9 L2332.5 1508.3" stroke="#008000"/>
<path d="M409.8 350.9 L413.8 348.8 L417.8 346.9 L421.8 345.3 L425.8 344.1 L429.8 343.0 L433.8 342.2 L437.8 341.6 L441.8 341.2 L445.9 341.0 L449.9 341.0 L453.9 341.4 L457.9 342.3 L461.9 343.6 L465.9 345.1 L469.9 346.8 L473.9 348.7 L477.9 350.6 L481.9 352.4 L485.9 354.7 L489.9 357.4 L493.9 360.4 L497.9 363.3 L501.9 366.1 L505.9 368.5 L509.9 370.3 L513.9 372.0 L518.0 373.5 L522.0 374.8 L526.0 376.1 L530.0 377.4 L534.0 378.7 L538.0 380.0 L542.0 381.4 L546.0 383.0 L550.0 384.7 L554.0 386.6 L558.0 388.5 L562.0 390.5 L566.0 392.5 L570.0 394.5 L574.0 396.4 L578.0 398.3 L582.0 400.2 L586.0 402.2 L590.1 404.0 L594.1 405.6 L598.1 407.0 L602.1 408.3 L606.1 409.5 L610.1 410.7 L614.1 411.8 L618.1 412.7 L622.1 413.3 L626.1 413.6 L630.1 413.5 L634.1 413.3 L638.1 413.0 L642.1 412.6 L646.1 412.3 L650.1 412.1 L654.1 412.0 L658.1 412.3 L662.2 412.9 L666.2 413.7 L670.2 414.6 L674.2 415.7 L678.2 417.4 L682.2 419.7 L686.2 422.4 L690.2 425.3 L694.2 428.3 L698.2 431.6 L702.2 435.3 L706.2 439.5 L710.2 444.1 L714.2 449.6 L718.2 456.3 L722.2 464.0 L726.2 471.9 L730.2 480.8 L734.3 490.1 L738.3 499.2 L742.3 508.0 L746.3 516.6 L750.3 525.2 L754.3 534.0 L758.3 542.9 L762.3 552.0 L766.3 561.3 L770.3 570.7 L774.3 580.2 L778.3 589.9 L782.3 599.6 L786.3 609.5 L790.3 619.7 L794.3 630.0 L798.3 640.7 L802.4 651.6 L806.4 662.9 L810.4 674.3 L814.4 686.0 L818.4 697.9 L822.4 710.4 L826.4 723.1 L830.4 735.6 L834.4 747.7 L838.4 759.6 L842.4 771.1 L846.4 781.6 L850.4 790.8 L854.4 799.3 L858.4 807.1 L862.4 814.1 L866.4 820.4 L870.4 826.2 L874.5 831.5 L878.5 836.4 L882.5 841.0 L886.5 845.4 L890.5 849.8 L894.5 853.7 L898.5 856.9 L902.5 859.0 L906.5 860.5 L910.5 861.8 L914.5 862.8 L918.5 863.5 L922.5 863.6 L926.5 863.4 L930.5 863.0 L934.5 862.5 L938.5 861.8 L942.5 860.2 L946.6 857.7 L950.6 854.7 L954.6 851.6 L958.6 847.9 L962.6 843.6 L966.6 839.3 L970.6 835.5 L974.6 831.4 L978.6 827.3 L982.6 824.2 L986.6 823.0 L990.6 823.3 L994.6 823.9 L998.6 824.6 L1002.6 825.1 L1006.6 825.3 L1010.6 824.8 L1014.6 823.6 L1018.7 822.1 L1022.7 820.4 L1026.7 818.6 L1030.7 817.0 L1034.7 815.6 L1038.7 814.1 L1042.7 812.7 L1046.7 811.3 L1050.7 810.0 L1054.7 809.0 L1058.7 808.0 L1062.7 807.1 L1066.7 806.2 L1070.7 805.3 L1074.7 804.6 L1078.7 804.1 L1082.7 803.8 L1086.8 803.8 L1090.8 804.2 L1094.8 805.0 L1098.8 806.0 L1102.8 807.2 L1106.8 808.5 L1110.8 809.9 L1114.8 811.3 L1118.8 813.0 L1122.8 815.0 L1126.8 817.2 L1130.8 819.7 L1134.8 822.3 L1138.8 825.0 L1142.8 827.8 L1146.8 830.6 L1150.8 833.5 L1154.8 836.4 L1158.9 839.5 L1162.9 842.8 L1166.9 846.3 L1170.9 849.8 L1174.9 853.4 L1178.9 857.0 L1182.9 860.6 L1186.9 864.0 L1190.9 867.4 L1194.9 870.7 L1198.9 874.0 L1202.9 877.3 L1206.9 880.6 L1210.9 883.9 L1214.9 887.1 L1218.9 890.3 L1222.9 893.3 L1226.9 896.3 L1231.0 899.3 L1235.0 902.4 L1239.0 905.6 L1243.0 908.8 L1247.0 912.0 L1251.0 914.8 L1255.0 917.4 L1259.0 919.5 L1263.0 921.0 L1267.0 922.0 L1271.0 922.8 L1275.0 923.4 L1279.0 923.9 L1283.0 924.4 L1287.0 924.8 L1291.0 925.2 L1295.0 925.8 L1299.0 926.4 L1303.1 927.3 L1307.1 928.5 L1311.1 930.2 L1315.1 932.3 L1319.1 934.6 L1323.1 937.1 L1327.1 939.6 L1331.1 942.0 L1335.1 944.1 L1339.1 945.8 L1343.1 947.0 L1347.1 948.0 L1351.1 948.7 L1355.1 949.4 L1359.1 949.9 L1363.1 950.5 L1367.1 951.0 L1371.2 951.6 L1375.2 952.2 L1379.2 953.0 L1383.2 954.0 L1387.2 955.2 L1391.2 957.0 L1395.2 959.2 L1399.2 961.8 L1403.2 964.5 L1407.2 967.4 L1411.2 970.2 L1415.2 973.3 L1419.2 976.6 L1423.2 980.1 L1427.2 983.7 L1431.2 987.5 L1435.2 991.3 L1439.2 995.2 L1443.3 999.1 L1447.3 1003.3 L1451.3 1007.6 L1455.3 1012.0 L1459.3 1016.5 L1463.3 1021.0 L1467.3 1025.6 L1471.3 1030.1 L1475.3 1034.6 L1479.3 1039.1 L1483.3 1043.5 L1487.3 1047.9 L1491.3 1052.3 L1495.3 1056.7 L1499.3 1061.2 L1503.3 1065.6 L1507.3 1070.0 L1511.3 1074.4 L1515.4 1078.8 L1519.4 1083.3 L1523.4 1087.7 L1527.4 1092.2 L1531.4 1096.7 L1535.4 1101.2 L1539.4 1105.7 L1543.4 1110.2 L1547.4 1114.5 L1551.4 1118.8 L1555.4 1123.0 L1559.4 1127.0 L1563.4 1131.0 L1567.4 1135.0 L1571.4 1138.9 L1575.4 1142.7 L1579.4 1146.5 L1583.4 1150.2 L1587.5 1153.8 L1591.5 1157.4 L1595.5 1160.9 L1599.5 1164.4 L1603.5 1167.8 L1607.5 1171.2 L1611.5 1174.4 L1615.5 1177.7 L1619.5 1180.9 L1623.5 1184.1 L1627.5 1187.2 L1631.5 1190.4 L1635.5 1193.5 L1639.5 1196.6 L1643.5 1199.6 L1647.5 1202.6 L1651.5 1205.6 L1655.5 1208.6 L1659.6 1211.6 L1663.6 1214.6 L1667.6 1217.6 L1671.6 1220.7 L1675.6 1223.7 L1679.6 1226.7 L1683.6 1229.8 L1687.6 1232.8 L1691.6 1235.8 L1695.6 1238.8 L1699.6 1241.8 L1703.6 1244.8 L1707.6 1247.8 L1711.6 1250.7 L1715.6 1253.7 L1719.6 1256.6 L1723.6 1259.6 L1727.7 1262.5 L1731.7 1265.4 L1735.7 1268.4 L1739.7 1271.3 L1743.7 1274.1 L1747.7 1277.0 L1751.7 1279.9 L1755.7 1282.7 L1759.7 1285.6 L1763.7 1288.4 L1767.7 1291.2 L1771.7 1294.0 L1775.7 1296.8 L1779.7 1299.6 L1783.7 1302.3 L1787.7 1305.1 L1791.7 1307.8 L1795.7 1310.5 L1799.8 1313.3 L1803.8 1315.9 L1807.8 1318.6 L1811.8 1321.3 L1815.8 1323.9 L1819.8 1326.5 L1823.8 1329.1 L1827.8 1331.7 L1831.8 1334.3 L1835.8 1336.8 L1839.8 1339.4 L1843.8 1341.9 L1847.8 1344.4 L1851.8 1346.8 L1855.8 1349.3 L1859.8 1351.7 L1863.8 1354.1 L1867.8 1356.5 L1871.9 1358.9 L1875.9 1361.2 L1879.9 1363.5 L1883.9 1365.8 L1887.9 1368.1 L1891.9 1370.3 L1895.9 1372.5 L1899.9 1374.7 L1903.9 1376.9 L1907.9 1379.0 L1911.9 1381.1 L1915.9 1383.2 L1919.9 1385.3 L1923.9 1387.3 L1927.9 1389.3 L1931.9 1391.3 L1935.9 1393.3 L1939.9 1395.2 L1944.0 1397.1 L1948.0 1399.0 L1952.0 1400.9 L1956.0 1402.7 L1960.0 1404.5 L1964.0 1406.3 L1968.0 1408.1 L1972.0 1409.8 L1976.0 1411.5 L1980.0 1413.2 L1984.0 1414.8 L1988.0 1416.5 L1992.0 1418.1 L1996.0 1419.7 L2000.0 1421.2 L2004.0 1422.8 L2008.0 1424.3 L2012.0 1425.8 L2016.1 1427.2 L2020.1 1428.7 L2024.1 1430.1 L2028.1 1431.5 L2032.1 1432.8 L2036.1 1434.2 L2040.1 1435.5 L2044.1 1436.8 L2048.1 1438.0 L2052.1 1439.3 L2056.1 1440.5 L2060.1 1441.7 L2064.1 1442.9 L2068.1 1444.1 L2072.1 1445.2 L2076.1 1446.3 L2080.1 1447.4 L2084.2 1448.5 L2088.2 1449.6 L2092.2 1450.6 L2096.2 1451.6 L2100.2 1452.6 L2104.2 1453.6 L2108.2 1454.6 L2112.2 1455.5 L2116.2 1456.5 L2120.2 1457.4 L2124.2 1458.3 L2128.2 1459.2 L2132.2 1460.1 L2136.2 1460.9 L2140.2 1461.8 L2144.2 1462.6 L2148.2 1463.4 L2152.2 1464.2 L2156.3 1465.0 L2160.3 1465.8 L2164.3 1466.6 L2168.3 1467.3 L2172.3 1468.1 L2176.3 1468.8 L2180.3 1469.6 L2184.3 1470.3 L2188.3 1471.0 L2192.3 1471.7 L2196.3 1472.4 L2200.3 1473.1 L2204.3 1473.7 L2208.3 1474.4 L2212.3 1475.0 L2216.3 1475.7 L2220.3 1476.3 L2224.3 1477.0 L2228.4 1477.6 L2232.4 1478.2 L2236.4 1478.8 L2240.4 1479.4 L2244.4 1480.0 L2248.4 1480.6 L2252.4 1481.1 L2256.4 1481.7 L2260.4 1482.3 L2264.4 1482.8 L2268.4 1483.4 L2272.4 1483.9 L2276.4 1484.5 L2280.4 1485.0 L2284.4 1485.5 L2288.4 1486.0 L2292.4 1486.5 L2296.4 1487.1 L2300.5 1487.6 L2304.5 1488.1 L2308.5 1488.6 L2312.5 1489.1 L2316.5 1489.6 L2320.5 1490.1 L2324.5 1490.6 L2328.5 1491.1 L2332.5 1491.5" stroke="#800080"/>
<path d="M409.8 350.4 L413.8 348.3 L417.8 346.4 L421.8 344.8 L425.8 343.6 L429.8 342.5 L433.8 341.7 L437.8 341.1 L441.8 340.7 L445.9 340.5 L449.9 340.5 L453.9 340.9 L457.9 341.8 L461.9 343.0 L465.9 344.5 L469.9 346.3 L473.9 348.1 L477.9 350.0 L481.9 351.9 L485.9 354.3 L489.9 357.2 L493.9 360.3 L497.9 363.5 L501.9 366.5 L505.9 368.9 L509.9 370.9 L513.9 372.6 L518.0 374.1 L522.0 375.6 L526.0 376.9 L530.0 378.2 L534.0 379.5 L538.0 380.9 L542.0 382.4 L546.0 384.0 L550.0 385.8 L554.0 387.7 L558.0 389.8 L562.0 391.9 L566.0 394.0 L570.0 396.0 L574.0 397.9 L578.0 399.8 L582.0 402.0 L586.0 404.2 L590.1 406.1 L594.1 407.5 L598.1 408.0 L602.1 408.0 L606.1 407.9 L610.1 407.8 L614.1 407.7 L618.1 407.5 L622.1 407.3 L626.1 407.1 L630.1 406.7 L634.1 405.9 L638.1 404.9 L642.1 403.6 L646.1 402.3 L650.1 401.1 L654.1 400.0 L658.1 399.2 L662.2 398.7 L666.2 398.2 L670.2 397.8 L674.2 397.5 L678.2 397.4 L682.2 397.6 L686.2 398.6 L690.2 400.0 L694.2 401.8 L698.2 403.7 L702.2 405.9 L706.2 408.9 L710.2 412.5 L714.2 416.3 L718.2 420.2 L722.2 424.3 L726.2 428.7 L730.2 433.5 L734.3 438.4 L738.3 443.6 L742.3 449.3 L746.3 455.3 L750.3 461.6 L754.3 467.9 L758.3 473.9 L762.3 479.9 L766.3 485.8 L770.3 491.8 L774.3 497.8 L778.3 503.9 L782.3 509.8 L786.3 515.9 L790.3 522.5 L794.3 530.3 L798.3 539.9 L802.4 550.6 L806.4 561.1 L810.4 571.4 L814.4 581.8 L818.4 592.3 L822.4 603.0 L826.4 614.5 L830.4 626.1 L834.4 636.4 L838.4 644.4 L842.4 651.1 L846.4 657.6 L850.4 664.8 L854.4 673.7 L858.4 683.2 L862.4 692.2 L866.4 699.4 L870.4 705.7 L874.5 711.5 L878.5 716.6 L882.5 721.0 L886.5 725.0 L890.5 729.1 L894.5 732.7 L898.5 735.3 L902.5 736.5 L906.5 736.5 L910.5 736.5 L914.5 736.5 L918.5 736.5 L922.5 736.4 L926.5 736.2 L930.5 734.5 L934.5 731.8 L938.5 728.6 L942.5 725.3 L946.6 721.5 L950.6 717.0 L954.6 712.2 L958.6 707.5 L962.6 703.0 L966.6 698.0 L970.6 693.0 L974.6 688.5 L978.6 685.2 L982.6 683.2 L986.6 681.6 L990.6 681.2 L994.6 681.3 L998.6 681.4 L1002.6 681.6 L1006.6 681.7 L1010.6 681.8 L1014.6 681.5 L1018.7 679.8 L1022.7 677.3 L1026.7 674.4 L1030.7 671.9 L1034.7 670.2 L1038.7 668.5 L1042.7 666.9 L1046.7 665.5 L1050.7 664.0 L1054.7 662.7 L1058.7 661.4 L1062.7 659.9 L1066.7 658.5 L1070.7 657.2 L1074.7 656.4 L1078.7 656.2 L1082.7 656.2 L1086.8 656.2 L1090.8 656.2 L1094.8 656.2 L1098.8 656.3 L1102.8 656.7 L1106.8 657.6 L1110.8 658.8 L1114.8 660.1 L1118.8 661.5 L1122.8 663.0 L1126.8 665.1 L1130.8 667.4 L1134.8 670.0 L1138.8 672.7 L1142.8 675.2 L1146.8 677.8 L1150.8 680.4 L1154.8 683.1 L1158.9 685.9 L1162.9 688.7 L1166.9 691.7 L1170.9 694.7 L1174.9 697.9 L1178.9 701.3 L1182.9 704.6 L1186.9 708.0 L1190.9 711.2 L1194.9 714.3 L1198.9 717.1 L1202.9 719.7 L1206.9 722.3 L1210.9 724.9 L1214.9 727.6 L1218.9 730.6 L1222.9 734.1 L1226.9 738.1 L1231.0 742.4 L1235.0 746.5 L1239.0 750.3 L1243.0 753.5 L1247.0 756.6 L1251.0 759.6 L1255.0 762.3 L1259.0 764.6 L1263.0 766.4 L1267.0 767.5 L1271.0 768.3 L1275.0 769.0 L1279.0 769.6 L1283.0 770.1 L1287.0 770.6 L1291.0 771.2 L1295.0 772.0 L1299.0 773.0 L1303.1 774.0 L1307.1 775.2 L1311.1 776.6 L1315.1 778.0 L1319.1 779.6 L1323.1 781.6 L1327.1 784.2 L1331.1 787.1 L1335.1 789.9 L1339.1 792.3 L1343.1 793.8 L1347.1 795.0 L1351.1 796.0 L1355.1 796.8 L1359.1 797.5 L1363.1 798.2 L1367.1 799.0 L1371.2 799.9 L1375.2 800.9 L1379.2 802.2 L1383.2 803.8 L1387.2 805.5 L1391.2 807.5 L1395.2 809.7 L1399.2 812.2 L1403.2 814.8 L1407.2 818.2 L1411.2 822.2 L1415.2 826.6 L1419.2 831.1 L1423.2 835.5 L1427.2 839.6 L1431.2 843.5 L1435.2 847.4 L1439.2 851.2 L1443.3 855.2 L1447.3 859.3 L1451.3 863.6 L1455.3 868.1 L1459.3 872.9 L1463.3 877.9 L1467.3 883.0 L1471.3 888.1 L1475.3 893.3 L1479.3 898.4 L1483.3 903.7 L1487.3 909.0 L1491.3 914.4 L1495.3 919.7 L1499.3 925.0 L1503.3 930.2 L1507.3 935.2 L1511.3 940.3 L1515.4 945.2 L1519.4 950.2 L1523.4 955.0 L1527.4 959.8 L1531.4 964.6 L1535.4 969.2 L1539.4 973.7 L1543.4 978.3 L1547.4 982.8 L1551.4 987.3 L1555.4 991.8 L1559.4 996.4 L1563.4 1001.1 L1567.4 1005.8 L1571.4 1010.4 L1575.4 1015.1 L1579.4 1019.8 L1583.4 1024.5 L1587.5 1029.2 L1591.5 1033.8 L1595.5 1038.4 L1599.5 1043.0 L1603.5 1047.6 L1607.5 1052.2 L1611.5 1056.8 L1615.5 1061.3 L1619.5 1065.8 L1623.5 1070.3 L1627.5 1074.6 L1631.5 1078.9 L1635.5 1083.0 L1639.5 1087.1 L1643.5 1091.0 L1647.5 1094.9 L1651.5 1098.8 L1655.5 1102.6 L1659.6 1106.5 L1663.6 1110.4 L1667.6 1114.4 L1671.6 1118.4 L1675.6 1122.4 L1679.6 1126.4 L1683.6 1130.5 L1687.6 1134.5 L1691.6 1138.5 L1695.6 1142.5 L1699.6 1146.5 L1703.6 1150.5 L1707.6 1154.4 L1711.6 1158.3 L1715.6 1162.3 L1719.6 1166.2 L1723.6 1170.1 L1727.7 1174.0 L1731.7 1177.9 L1735.7 1181.8 L1739.7 1185.7 L1743.7 1189.6 L1747.7 1193.4 L1751.7 1197.3 L1755.7 1201.1 L1759.7 1204.9 L1763.7 1208.7 L1767.7 1212.5 L1771.7 1216.3 L1775.7 1220.1 L1779.7 1223.9 L1783.7 1227.6 L1787.7 1231.3 L1791.7 1235.1 L1795.7 1238.8 L1799.8 1242.4 L1803.8 1246.1 L1807.8 1249.7 L1811.8 1253.3 L1815.8 1256.9 L1819.8 1260.5 L1823.8 1264.0 L1827.8 1267.6 L1831.8 1271.0 L1835.8 1274.5 L1839.8 1277.9 L1843.8 1281.3 L1847.8 1284.7 L1851.8 1288.0 L1855.8 1291.3 L1859.8 1294.5 L1863.8 1297.7 L1867.8 1300.9 L1871.9 1304.0 L1875.9 1307.1 L1879.9 1310.2 L1883.9 1313.2 L1887.9 1316.2 L1891.9 1319.1 L1895.9 1322.0 L1899.9 1324.9 L1903.9 1327.7 L1907.9 1330.5 L1911.9 1333.2 L1915.9 1335.9 L1919.9 1338.6 L1923.9 1341.2 L1927.9 1343.8 L1931.9 1346.3 L1935.9 1348.8 L1939.9 1351.3 L1944.0 1353.7 L1948.0 1356.1 L1952.0 1358.4 L1956.0 1360.7 L1960.0 1363.0 L1964.0 1365.2 L1968.0 1367.4 L1972.0 1369.6 L1976.0 1371.7 L1980.0 1373.8 L1984.0 1375.8 L1988.0 1377.9 L1992.0 1379.8 L1996.0 1381.8 L2000.0 1383.7 L2004.0 1385.5 L2008.0 1387.4 L2012.0 1389.1 L2016.1 1390.9 L2020.1 1392.6 L2024.1 1394.3 L2028.1 1396.0 L2032.1 1397.6 L2036.1 1399.2 L2040.1 1400.8 L2044.1 1402.3 L2048.1 1403.8 L2052.1 1405.3 L2056.1 1406.7 L2060.1 1408.2 L2064.1 1409.6 L2068.1 1410.9 L2072.1 1412.3 L2076.1 1413.6 L2080.1 1414.9 L2084.2 1416.2 L2088.2 1417.5 L2092.2 1418.8 L2096.2 1420.0 L2100.2 1421.2 L2104.2 1422.5 L2108.2 1423.7 L2112.2 1424.8 L2116.2 1426.0 L2120.2 1427.2 L2124.2 1428.3 L2128.2 1429.4 L2132.2 1430.5 L2136.2 1431.6 L2140.2 1432.7 L2144.2 1433.8 L2148.2 1434.8 L2152.2 1435.9 L2156.3 1436.9 L2160.3 1437.9 L2164.3 1438.9 L2168.3 1439.9 L2172.3 1440.9 L2176.3 1441.8 L2180.3 1442.8 L2184.3 1443.7 L2188.3 1444.6 L2192.3 1445.5 L2196.3 1446.4 L2200.3 1447.3 L2204.3 1448.1 L2208.3 1449.0 L2212.3 1449.8 L2216.3 1450.6 L2220.3 1451.4 L2224.3 1452.2 L2228.4 1452.9 L2232.4 1453.7 L2236.4 1454.4 L2240.4 1455.2 L2244.4 1455.9 L2248.4 1456.6 L2252.4 1457.3 L2256.4 1458.0 L2260.4 1458.6 L2264.4 1459.3 L2268.4 1459.9 L2272.4 1460.6 L2276.4 1461.2 L2280.4 1461.8 L2284.4 1462.4 L2288.4 1463.0 L2292.4 1463.6 L2296.4 1464.2 L2300.5 1464.8 L2304.5 1465.4 L2308.5 1466.0 L2312.5 1466.6 L2316.5 1467.1 L2320.5 1467.7 L2324.5 1468.3 L2328.5 1468.8 L2332.5 1469.3" stroke="#ff00ff"/>
<path d="M409.8 349.9 L413.8 347.7 L417.8 345.8 L421.8 344.2 L425.8 342.8 L429.8 341.7 L433.8 340.8 L437.8 340.2 L441.8 339.8 L445.9 339.5 L449.9 339.5 L453.9 339.9 L457.9 340.7 L461.9 341.9 L465.9 343.4 L469.9 345.0 L473.9 346.8 L477.9 348.6 L481.9 350.4 L485.9 352.7 L489.9 355.6 L493.9 358.6 L497.9 361.8 L501.9 364.6 L505.9 367.0 L509.9 368.8 L513.9 370.3 L518.0 371.7 L522.0 373.0 L526.0 374.2 L530.0 375.3 L534.0 376.5 L538.0 377.7 L542.0 379.0 L546.0 380.5 L550.0 382.2 L554.0 384.0 L558.0 385.9 L562.0 387.8 L566.0 389.8 L570.0 391.7 L574.0 393.5 L578.0 395.2 L582.0 397.2 L586.0 399.1 L590.1 400.8 L594.1 402.1 L598.1 402.5 L602.1 402.4 L606.1 402.1 L610.1 401.7 L614.1 401.2 L618.1 400.5 L622.1 399.9 L626.1 399.2 L630.1 398.5 L634.1 397.5 L638.1 396.3 L642.1 395.0 L646.1 393.7 L650.1 392.4 L654.1 391.3 L658.1 390.3 L662.2 389.5 L666.2 388.8 L670.2 388.0 L674.2 387.3 L678.2 386.6 L682.2 386.1 L686.2 385.7 L690.2 385.5 L694.2 385.6 L698.2 386.6 L702.2 388.1 L706.2 389.9 L710.2 391.8 L714.2 393.6 L718.2 395.5 L722.2 397.5 L726.2 399.7 L730.2 402.1 L734.3 404.6 L738.3 407.4 L742.3 410.7 L746.3 414.4 L750.3 418.4 L754.3 422.4 L758.3 426.2 L762.3 429.9 L766.3 433.5 L770.3 437.1 L774.3 440.9 L778.3 444.7 L782.3 448.7 L786.3 452.9 L790.3 457.3 L794.3 461.8 L798.3 466.6 L802.4 471.7 L806.4 477.0 L810.4 482.7 L814.4 488.8 L818.4 495.2 L822.4 502.0 L826.4 509.5 L830.4 517.7 L834.4 526.0 L838.4 534.8 L842.4 543.9 L846.4 551.7 L850.4 558.2 L854.4 564.0 L858.4 569.3 L862.4 574.3 L866.4 579.2 L870.4 583.9 L874.5 588.3 L878.5 592.4 L882.5 596.1 L886.5 599.5 L890.5 602.9 L894.5 605.9 L898.5 608.4 L902.5 609.9 L906.5 610.6 L910.5 611.2 L914.5 611.7 L918.5 612.1 L922.5 612.3 L926.5 612.2 L930.5 611.6 L934.5 610.4 L938.5 608.9 L942.5 607.3 L946.6 604.9 L950.6 601.8 L954.6 598.4 L958.6 595.0 L962.6 591.7 L966.6 588.0 L970.6 584.3 L974.6 580.8 L978.6 578.0 L982.6 576.1 L986.6 574.5 L990.6 574.1 L994.6 575.6 L998.6 578.1 L1002.6 580.3 L1006.6 581.0 L1010.6 580.9 L1014.6 580.7 L1018.7 580.4 L1022.7 580.0 L1026.7 579.6 L1030.7 579.1 L1034.7 578.6 L1038.7 577.8 L1042.7 576.8 L1046.7 575.8 L1050.7 574.9 L1054.7 574.3 L1058.7 574.0 L1062.7 573.8 L1066.7 573.7 L1070.7 573.6 L1074.7 573.5 L1078.7 573.4 L1082.7 573.4 L1086.8 573.5 L1090.8 574.0 L1094.8 574.7 L1098.8 575.7 L1102.8 576.8 L1106.8 578.0 L1110.8 579.3 L1114.8 580.9 L1118.8 582.9 L1122.8 585.2 L1126.8 587.7 L1130.8 590.3 L1134.8 592.9 L1138.8 595.6 L1142.8 598.4 L1146.8 601.5 L1150.8 604.6 L1154.8 607.7 L1158.9 610.8 L1162.9 613.9 L1166.9 616.9 L1170.9 619.9 L1174.9 623.0 L1178.9 626.0 L1182.9 629.0 L1186.9 631.9 L1190.9 634.8 L1194.9 637.5 L1198.9 640.2 L1202.9 642.9 L1206.9 645.6 L1210.9 648.4 L1214.9 651.3 L1218.9 654.2 L1222.9 657.3 L1226.9 660.4 L1231.0 663.4 L1235.0 666.4 L1239.0 669.3 L1243.0 672.3 L1247.0 675.5 L1251.0 678.7 L1255.0 681.5 L1259.0 683.8 L1263.0 685.2 L1267.0 686.1 L1271.0 686.8 L1275.0 687.4 L1279.0 687.9 L1283.0 688.4 L1287.0 689.0 L1291.0 689.7 L1295.0 690.5 L1299.0 691.3 L1303.1 692.2 L1307.1 693.1 L1311.1 694.1 L1315.1 695.2 L1319.1 696.3 L1323.1 697.6 L1327.1 699.2 L1331.1 701.1 L1335.1 703.0 L1339.1 704.9 L1343.1 706.4 L1347.1 707.5 L1351.1 708.2 L1355.1 708.7 L1359.1 709.2 L1363.1 709.6 L1367.1 710.0 L1371.2 710.6 L1375.2 711.4 L1379.2 712.4 L1383.2 713.7 L1387.2 715.2 L1391.2 716.8 L1395.2 718.7 L1399.2 720.7 L1403.2 723.0 L1407.2 725.9 L1411.2 729.2 L1415.2 732.8 L1419.2 736.4 L1423.2 740.1 L1427.2 743.6 L1431.2 747.0 L1435.2 750.5 L1439.2 754.1 L1443.3 757.9 L1447.3 761.9 L1451.3 766.2 L1455.3 770.9 L1459.3 776.2 L1463.3 781.8 L1467.3 787.6 L1471.3 793.4 L1475.3 799.2 L1479.3 804.8 L1483.3 810.4 L1487.3 816.1 L1491.3 821.8 L1495.3 827.4 L1499.3 832.8 L1503.3 837.9 L1507.3 842.7 L1511.3 847.2 L1515.4 851.6 L1519.4 855.9 L1523.4 860.2 L1527.4 864.8 L1531.4 869.5 L1535.4 874.4 L1539.4 879.4 L1543.4 884.5 L1547.4 889.5 L1551.4 894.6 L1555.4 899.7 L1559.4 904.7 L1563.4 909.6 L1567.4 914.6 L1571.4 919.6 L1575.4 924.6 L1579.4 929.7 L1583.4 935.0 L1587.5 940.4 L1591.5 945.9 L1595.5 951.5 L1599.5 957.1 L1603.5 962.6 L1607.5 967.9 L1611.5 973.1 L1615.5 978.2 L1619.5 983.3 L1623.5 988.3 L1627.5 993.3 L1631.5 998.2 L1635.5 1003.2 L1639.5 1008.1 L1643.5 1012.9 L1647.5 1017.8 L1651.5 1022.6 L1655.5 1027.4 L1659.6 1032.3 L1663.6 1037.2 L1667.6 1042.1 L1671.6 1047.1 L1675.6 1052.1 L1679.6 1057.1 L1683.6 1062.1 L1687.6 1067.1 L1691.6 1072.2 L1695.6 1077.2 L1699.6 1082.1 L1703.6 1087.1 L1707.6 1092.1 L1711.6 1097.0 L1715.6 1101.9 L1719.6 1106.9 L1723.6 1111.8 L1727.7 1116.7 L1731.7 1121.6 L1735.7 1126.4 L1739.7 1131.2 L1743.7 1136.0 L1747.7 1140.8 L1751.7 1145.6 L1755.7 1150.3 L1759.7 1155.0 L1763.7 1159.7 L1767.7 1164.4 L1771.7 1169.0 L1775.7 1173.6 L1779.7 1178.2 L1783.7 1182.7 L1787.7 1187.3 L1791.7 1191.8 L1795.7 1196.2 L1799.8 1200.6 L1803.8 1205.0 L1807.8 1209.4 L1811.8 1213.7 L1815.8 1218.0 L1819.8 1222.2 L1823.8 1226.4 L1827.8 1230.6 L1831.8 1234.7 L1835.8 1238.8 L1839.8 1242.8 L1843.8 1246.8 L1847.8 1250.8 L1851.8 1254.7 L1855.8 1258.5 L1859.8 1262.3 L1863.8 1266.1 L1867.8 1269.8 L1871.9 1273.5 L1875.9 1277.1 L1879.9 1280.7 L1883.9 1284.2 L1887.9 1287.7 L1891.9 1291.1 L1895.9 1294.5 L1899.9 1297.8 L1903.9 1301.1 L1907.9 1304.4 L1911.9 1307.5 L1915.9 1310.7 L1919.9 1313.8 L1923.9 1316.8 L1927.9 1319.8 L1931.9 1322.8 L1935.9 1325.7 L1939.9 1328.5 L1944.0 1331.3 L1948.0 1334.1 L1952.0 1336.8 L1956.0 1339.5 L1960.0 1342.1 L1964.0 1344.7 L1968.0 1347.3 L1972.0 1349.8 L1976.0 1352.2 L1980.0 1354.6 L1984.0 1357.0 L1988.0 1359.3 L1992.0 1361.6 L1996.0 1363.9 L2000.0 1366.1 L2004.0 1368.2 L2008.0 1370.3 L2012.0 1372.4 L2016.1 1374.4 L2020.1 1376.4 L2024.1 1378.4 L2028.1 1380.3 L2032.1 1382.2 L2036.1 1384.0 L2040.1 1385.8 L2044.1 1387.6 L2048.1 1389.3 L2052.1 1391.0 L2056.1 1392.6 L2060.1 1394.2 L2064.1 1395.8 L2068.1 1397.4 L2072.1 1398.9 L2076.1 1400.4 L2080.1 1401.8 L2084.2 1403.3 L2088.2 1404.7 L2092.2 1406.0 L2096.2 1407.4 L2100.2 1408.7 L2104.2 1410.0 L2108.2 1411.2 L2112.2 1412.5 L2116.2 1413.7 L2120.2 1414.9 L2124.2 1416.1 L2128.2 1417.2 L2132.2 1418.4 L2136.2 1419.5 L2140.2 1420.5 L2144.2 1421.6 L2148.2 1422.7 L2152.2 1423.7 L2156.3 1424.7 L2160.3 1425.7 L2164.3 1426.7 L2168.3 1427.7 L2172.3 1428.6 L2176.3 1429.6 L2180.3 1430.5 L2184.3 1431.4 L2188.3 1432.3 L2192.3 1433.2 L2196.3 1434.0 L2200.3 1434.9 L2204.3 1435.7 L2208.3 1436.6 L2212.3 1437.4 L2216.3 1438.2 L2220.3 1439.0 L2224.3 1439.8 L2228.4 1440.6 L2232.4 1441.3 L2236.4 1442.1 L2240.4 1442.8 L2244.4 1443.6 L2248.4 1444.3 L2252.4 1445.0 L2256.4 1445.7 L2260.4 1446.4 L2264.4 1447.1 L2268.4 1447.8 L2272.4 1448.4 L2276.4 1449.1 L2280.4 1449.8 L2284.4 1450.4 L2288.4 1451.0 L2292.4 1451.7 L2296.4 1452.3 L2300.5 1452.9 L2304.5 1453.6 L2308.5 1454.2 L2312.5 1454.8 L2316.5 1455.4 L2320.5 1456.0 L2324.5 1456.6 L2328.5 1457.2 L2332.5 1457.8" stroke="#ff0080"/>
<path d="M409.8 348.6 L413.8 346.4 L417.8 344.5 L421.8 342.9 L425.8 341.6 L429.8 340.5 L433.8 339.6 L437.8 339.0 L441.8 338.6 L445.9 338.3 L449.9 338.3 L453.9 338.7 L457.9 339.5 L461.9 340.7 L465.9 342.1 L469.9 343.7 L473.9 345.5 L477.9 347.3 L481.9 349.1 L485.9 351.5 L489.9 354.4 L493.9 357.5 L497.9 360.7 L501.9 363.7 L505.9 366.1 L509.9 367.9 L513.9 369.4 L518.0 370.8 L522.0 372.1 L526.0 373.3 L530.0 374.4 L534.0 375.6 L538.0 376.8 L542.0 378.1 L546.0 379.5 L550.0 381.1 L554.0 382.9 L558.0 384.7 L562.0 386.6 L566.0 388.5 L570.0 390.3 L574.0 392.0 L578.0 393.7 L582.0 395.5 L586.0 397.4 L590.1 399.0 L594.1 400.2 L598.1 400.6 L602.1 400.5 L606.1 400.3 L610.1 399.9 L614.1 399.4 L618.1 398.8 L622.1 398.2 L626.1 397.6 L630.1 396.9 L634.1 395.8 L638.1 394.6 L642.1 393.2 L646.1 391.8 L650.1 390.4 L654.1 389.1 L658.1 388.0 L662.2 387.2 L666.2 386.4 L670.2 385.5 L674.2 384.7 L678.2 384.0 L682.2 383.5 L686.2 383.0 L690.2 382.8 L694.2 382.8 L698.2 383.0 L702.2 383.3 L706.2 383.6 L710.2 384.1 L714.2 384.6 L718.2 385.1 L722.2 385.7 L726.2 386.2 L730.2 387.0 L734.3 388.0 L738.3 389.1 L742.3 390.2 L746.3 391.1 L750.3 391.9 L754.3 392.4 L758.3 392.5 L762.3 392.3 L766.3 392.0 L770.3 391.5 L774.3 390.8 L778.3 390.2 L782.3 389.4 L786.3 388.5 L790.3 387.0 L794.3 385.2 L798.3 383.3 L802.4 381.6 L806.4 380.2 L810.4 379.2 L814.4 378.5 L818.4 377.7 L822.4 377.1 L826.4 376.6 L830.4 376.4 L834.4 378.4 L838.4 389.3 L842.4 390.6 L846.4 391.5 L850.4 392.1 L854.4 392.5 L858.4 392.9 L862.4 393.4 L866.4 394.0 L870.4 394.9 L874.5 395.9 L878.5 397.0 L882.5 398.2 L886.5 399.5 L890.5 400.8 L894.5 402.2 L898.5 403.5 L902.5 404.9 L906.5 406.4 L910.5 407.9 L914.5 409.4 L918.5 411.0 L922.5 412.6 L926.5 414.3 L930.5 416.0 L934.5 417.6 L938.5 419.3 L942.5 421.0 L946.6 422.7 L950.6 424.3 L954.6 425.9 L958.6 427.5 L962.6 429.1 L966.6 430.7 L970.6 432.4 L974.6 434.1 L978.6 435.8 L982.6 437.6 L986.6 439.5 L990.6 441.5 L994.6 443.7 L998.6 446.0 L1002.6 448.4 L1006.6 450.9 L1010.6 453.4 L1014.6 456.0 L1018.7 458.7 L1022.7 461.2 L1026.7 463.8 L1030.7 466.2 L1034.7 468.6 L1038.7 470.8 L1042.7 473.0 L1046.7 475.1 L1050.7 477.2 L1054.7 479.3 L1058.7 481.5 L1062.7 483.7 L1066.7 486.0 L1070.7 488.5 L1074.7 491.1 L1078.7 493.9 L1082.7 497.1 L1086.8 500.5 L1090.8 504.1 L1094.8 507.9 L1098.8 511.7 L1102.8 515.5 L1106.8 519.3 L1110.8 523.0 L1114.8 526.7 L1118.8 530.5 L1122.8 534.2 L1126.8 538.0 L1130.8 541.7 L1134.8 545.3 L1138.8 548.7 L1142.8 552.0 L1146.8 555.1 L1150.8 558.2 L1154.8 561.2 L1158.9 564.1 L1162.9 566.8 L1166.9 569.5 L1170.9 571.9 L1174.9 574.1 L1178.9 576.1 L1182.9 577.9 L1186.9 579.5 L1190.9 581.1 L1194.9 582.6 L1198.9 584.1 L1202.9 585.7 L1206.9 587.3 L1210.9 589.0 L1214.9 591.0 L1218.9 593.1 L1222.9 595.4 L1226.9 597.9 L1231.0 600.4 L1235.0 603.0 L1239.0 605.5 L1243.0 607.8 L1247.0 610.1 L1251.0 612.0 L1255.0 613.8 L1259.0 615.5 L1263.0 617.1 L1267.0 618.6 L1271.0 620.1 L1275.0 621.4 L1279.0 622.7 L1283.0 623.9 L1287.0 625.1 L1291.0 626.1 L1295.0 627.1 L1299.0 628.1 L1303.1 629.0 L1307.1 629.9 L1311.1 630.7 L1315.1 631.5 L1319.1 632.4 L1323.1 633.2 L1327.1 634.1 L1331.1 635.0 L1335.1 635.9 L1339.1 636.7 L1343.1 637.6 L1347.1 638.4 L1351.1 639.2 L1355.1 640.0 L1359.1 640.9 L1363.1 641.8 L1367.1 642.7 L1371.2 643.6 L1375.2 644.7 L1379.2 645.8 L1383.2 647.0 L1387.2 648.3 L1391.2 649.7 L1395.2 651.2 L1399.2 652.8 L1403.2 654.6 L1407.2 656.5 L1411.2 658.6 L1415.2 660.9 L1419.2 663.3 L1423.2 666.0 L1427.2 668.7 L1431.2 671.6 L1435.2 674.6 L1439.2 677.7 L1443.3 681.1 L1447.3 684.6 L1451.3 688.3 L1455.3 692.2 L1459.3 696.4 L1463.3 701.0 L1467.3 706.0 L1471.3 711.3 L1475.3 716.6 L1479.3 721.8 L1483.3 726.7 L1487.3 731.4 L1491.3 736.0 L1495.3 740.5 L1499.3 744.8 L1503.3 748.7 L1507.3 752.3 L1511.3 755.4 L1515.4 758.1 L1519.4 760.7 L1523.4 763.4 L1527.4 766.4 L1531.4 769.8 L1535.4 773.6 L1539.4 777.7 L1543.4 782.0 L1547.4 786.6 L1551.4 791.4 L1555.4 796.5 L1559.4 801.8 L1563.4 807.5 L1567.4 813.5 L1571.4 819.8 L1575.4 826.3 L1579.4 833.3 L1583.4 840.8 L1587.5 848.5 L1591.5 856.4 L1595.5 864.2 L1599.5 872.1 L1603.5 880.1 L1607.5 888.1 L1611.5 896.2 L1615.5 904.1 L1619.5 912.1 L1623.5 920.1 L1627.5 928.0 L1631.5 935.9 L1635.5 943.7 L1639.5 951.6 L1643.5 959.4 L1647.5 967.1 L1651.5 974.7 L1655.5 982.1 L1659.6 989.5 L1663.6 996.9 L1667.6 1004.3 L1671.6 1011.9 L1675.6 1019.4 L1679.6 1027.0 L1683.6 1034.5 L1687.6 1041.9 L1691.6 1049.2 L1695.6 1056.3 L1699.6 1063.4 L1703.6 1070.5 L1707.6 1077.4 L1711.6 1084.3 L1715.6 1091.2 L1719.6 1098.0 L1723.6 1104.7 L1727.7 1111.4 L1731.7 1118.1 L1735.7 1124.7 L1739.7 1131.2 L1743.7 1137.7 L1747.7 1144.0 L1751.7 1150.3 L1755.7 1156.6 L1759.7 1162.8 L1763.7 1168.9 L1767.7 1174.9 L1771.7 1180.9 L1775.7 1186.8 L1779.7 1192.6 L1783.7 1198.4 L1787.7 1204.1 L1791.7 1209.7 L1795.7 1215.3 L1799.8 1220.8 L1803.8 1226.2 L1807.8 1231.6 L1811.8 1236.9 L1815.8 1242.2 L1819.8 1247.3 L1823.8 1252.4 L1827.8 1257.5 L1831.8 1262.5 L1835.8 1267.4 L1839.8 1272.2 L1843.8 1277.0 L1847.8 1281.7 L1851.8 1286.3 L1855.8 1290.9 L1859.8 1295.4 L1863.8 1299.8 L1867.8 1304.1 L1871.9 1308.4 L1875.9 1312.5 L1879.9 1316.6 L1883.9 1320.6 L1887.9 1324.5 L1891.9 1328.3 L1895.9 1332.0 L1899.9 1335.7 L1903.9 1339.2 L1907.9 1342.6 L1911.9 1346.0 L1915.9 1349.2 L1919.9 1352.4 L1923.9 1355.4 L1927.9 1358.4 L1931.9 1361.3 L1935.9 1364.1 L1939.9 1366.9 L1944.0 1369.5 L1948.0 1372.1 L1952.0 1374.6 L1956.0 1377.1 L1960.0 1379.4 L1964.0 1381.7 L1968.0 1383.9 L1972.0 1386.1 L1976.0 1388.2 L1980.0 1390.2 L1984.0 1392.2 L1988.0 1394.0 L1992.0 1395.9 L1996.0 1397.6 L2000.0 1399.4 L2004.0 1401.0 L2008.0 1402.6 L2012.0 1404.1 L2016.1 1405.6 L2020.1 1407.0 L2024.1 1408.4 L2028.1 1409.7 L2032.1 1411.0 L2036.1 1412.2 L2040.1 1413.4 L2044.1 1414.5 L2048.1 1415.6 L2052.1 1416.7 L2056.1 1417.7 L2060.1 1418.7 L2064.1 1419.7 L2068.1 1420.6 L2072.1 1421.5 L2076.1 1422.4 L2080.1 1423.2 L2084.2 1424.1 L2088.2 1424.9 L2092.2 1425.6 L2096.2 1426.4 L2100.2 1427.1 L2104.2 1427.9 L2108.2 1428.6 L2112.2 1429.3 L2116.2 1429.9 L2120.2 1430.6 L2124.2 1431.2 L2128.2 1431.9 L2132.2 1432.5 L2136.2 1433.1 L2140.2 1433.6 L2144.2 1434.2 L2148.2 1434.8 L2152.2 1435.3 L2156.3 1435.8 L2160.3 1436.4 L2164.3 1436.8 L2168.3 1437.3 L2172.3 1437.8 L2176.3 1438.3 L2180.3 1438.7 L2184.3 1439.1 L2188.3 1439.6 L2192.3 1440.0 L2196.3 1440.4 L2200.3 1440.7 L2204.3 1441.1 L2208.3 1441.4 L2212.3 1441.8 L2216.3 1442.1 L2220.3 1442.4 L2224.3 1442.7 L2228.4 1443.0 L2232.4 1443.3 L2236.4 1443.5 L2240.4 1443.7 L2244.4 1444.0 L2248.4 1444.2 L2252.4 1444.4 L2256.4 1444.6 L2260.4 1444.7 L2264.4 1444.9 L2268.4 1445.0 L2272.4 1445.2 L2276.4 1445.3 L2280.4 1445.4 L2284.4 1445.5 L2288.4 1445.6 L2292.4 1445.7 L2296.4 1445.8 L2300.5 1445.9 L2304.5 1446.0 L2308.5 1446.0 L2312.5 1446.1 L2316.5 1446.2 L2320.5 1446.2 L2324.5 1446.3 L2328.5 1446.3 L2332.5 1446.4" stroke="#ff0000"/>
<path d="M409.8 452.6 L413.8 451.2 L417.8 449.8 L421.8 448.4 L425.8 447.1 L429.8 445.7 L433.8 444.1 L437.8 442.4 L441.8 440.9 L445.9 439.8 L449.9 439.6 L453.9 440.1 L457.9 441.0 L461.9 442.3 L465.9 443.8 L469.9 445.5 L473.9 447.3 L477.9 449.5 L481.9 452.6 L485.9 456.0 L489.9 459.3 L493.9 462.0 L497.9 464.0 L501.9 466.0 L505.9 467.6 L509.9 468.7 L513.9 469.4 L518.0 469.9 L522.0 470.3 L526.0 470.6 L530.0 471.0 L534.0 471.6 L538.0 472.4 L542.0 473.6 L546.0 475.2 L550.0 477.1 L554.0 479.1 L558.0 481.1 L562.0 483.3 L566.0 485.6 L570.0 488.1 L574.0 490.7 L578.0 493.7 L582.0 497.6 L586.0 501.8 L590.1 505.6 L594.1 508.4 L598.1 509.4 L602.1 508.6 L606.1 507.1 L610.1 506.0 L614.1 506.3 L618.1 507.6 L622.1 509.4 L626.1 511.3 L630.1 513.0 L634.1 514.0 L638.1 514.7 L642.1 515.2 L646.1 515.7 L650.1 515.9 L654.1 516.0 L658.1 516.0 L662.2 516.0 L666.2 516.0 L670.2 516.0 L674.2 517.4 L678.2 520.2 L682.2 523.8 L686.2 527.4 L690.2 531.6 L694.2 536.5 L698.2 541.7 L702.2 546.8 L706.2 551.3 L710.2 555.2 L714.2 558.8 L718.2 562.5 L722.2 566.6 L726.2 571.5 L730.2 577.5 L734.3 584.4 L738.3 591.6 L742.3 598.9 L746.3 606.0 L750.3 612.9 L754.3 620.0 L758.3 627.3 L762.3 635.1 L766.3 643.3 L770.3 652.1 L774.3 661.4 L778.3 671.1 L782.3 681.2 L786.3 692.1 L790.3 703.7 L794.3 715.9 L798.3 728.3 L802.4 740.6 L806.4 752.5 L810.4 764.2 L814.4 776.0 L818.4 788.0 L822.4 800.5 L826.4 814.0 L830.4 827.3 L834.4 839.4 L838.4 850.2 L842.4 860.3 L846.4 869.2 L850.4 877.1 L854.4 884.2 L858.4 890.8 L862.4 897.1 L866.4 903.3 L870.4 909.3 L874.5 915.1 L878.5 920.7 L882.5 926.1 L886.5 931.3 L890.5 936.4 L894.5 941.3 L898.5 946.0 L902.5 950.6 L906.5 955.0 L910.5 959.4 L914.5 963.7 L918.5 968.1 L922.5 972.5 L926.5 976.9 L930.5 981.2 L934.5 985.4 L938.5 989.4 L942.5 993.2 L946.6 996.8 L950.6 1000.3 L954.6 1004.1 L958.6 1008.1 L962.6 1012.4 L966.6 1016.8 L970.6 1021.5 L974.6 1026.4 L978.6 1031.7 L982.6 1037.3 L986.6 1043.3 L990.6 1049.6 L994.6 1056.1 L998.6 1062.9 L1002.6 1070.1 L1006.6 1077.5 L1010.6 1085.0 L1014.6 1092.3 L1018.7 1099.3 L1022.7 1106.1 L1026.7 1112.7 L1030.7 1119.4 L1034.7 1126.1 L1038.7 1132.8 L1042.7 1139.4 L1046.7 1146.1 L1050.7 1152.8 L1054.7 1159.6 L1058.7 1166.7 L1062.7 1173.8 L1066.7 1180.5 L1070.7 1186.6 L1074.7 1192.1 L1078.7 1197.2 L1082.7 1202.0 L1086.8 1206.6 L1090.8 1211.0 L1094.8 1215.2 L1098.8 1219.3 L1102.8 1223.2 L1106.8 1227.0 L1110.8 1230.6 L1114.8 1234.1 L1118.8 1237.5 L1122.8 1240.8 L1126.8 1243.9 L1130.8 1246.9 L1134.8 1249.8 L1138.8 1252.6 L1142.8 1255.4 L1146.8 1258.0 L1150.8 1260.6 L1154.8 1263.1 L1158.9 1265.6 L1162.9 1268.0 L1166.9 1270.4 L1170.9 1272.8 L1174.9 1275.2 L1178.9 1277.5 L1182.9 1279.8 L1186.9 1282.0 L1190.9 1284.2 L1194.9 1286.3 L1198.9 1288.3 L1202.9 1290.2 L1206.9 1292.0 L1210.9 1293.7 L1214.9 1295.3 L1218.9 1296.9 L1222.9 1298.4 L1226.9 1299.9 L1231.0 1301.3 L1235.0 1302.7 L1239.0 1304.0 L1243.0 1305.4 L1247.0 1306.7 L1251.0 1308.0 L1255.0 1309.3 L1259.0 1310.6 L1263.0 1311.8 L1267.0 1313.0 L1271.0 1314.2 L1275.0 1315.4 L1279.0 1316.6 L1283.0 1317.8 L1287.0 1319.0 L1291.0 1320.1 L1295.0 1321.3 L1299.0 1322.5 L1303.1 1323.6 L1307.1 1324.8 L1311.1 1326.0 L1315.1 1327.1 L1319.1 1328.4 L1323.1 1329.6 L1327.1 1330.9 L1331.1 1332.3 L1335.1 1333.6 L1339.1 1335.0 L1343.1 1336.4 L1347.1 1337.8 L1351.1 1339.2 L1355.1 1340.5 L1359.1 1341.9 L1363.1 1343.1 L1367.1 1344.4 L1371.2 1345.7 L1375.2 1346.9 L1379.2 1348.2 L1383.2 1349.5 L1387.2 1350.7 L1391.2 1352.0 L1395.2 1353.4 L1399.2 1354.7 L1403.2 1356.1 L1407.2 1357.5 L1411.2 1359.0 L1415.2 1360.5 L1419.2 1362.0 L1423.2 1363.5 L1427.2 1365.0 L1431.2 1366.6 L1435.2 1368.1 L1439.2 1369.7 L1443.3 1371.2 L1447.3 1372.8 L1451.3 1374.3 L1455.3 1375.8 L1459.3 1377.3 L1463.3 1378.7 L1467.3 1380.1 L1471.3 1381.5 L1475.3 1382.9 L1479.3 1384.3 L1483.3 1385.7 L1487.3 1387.1 L1491.3 1388.5 L1495.3 1389.8 L1499.3 1391.2 L1503.3 1392.5 L1507.3 1393.8 L1511.3 1395.1 L1515.4 1396.4 L1519.4 1397.6 L1523.4 1398.8 L1527.4 1400.0 L1531.4 1401.2 L1535.4 1402.4 L1539.4 1403.5 L1543.4 1404.7 L1547.4 1405.8 L1551.4 1406.9 L1555.4 1408.0 L1559.4 1409.1 L1563.4 1410.1 L1567.4 1411.2 L1571.4 1412.2 L1575.4 1413.2 L1579.4 1414.2 L1583.4 1415.2 L1587.5 1416.1 L1591.5 1417.1 L1595.5 1418.0 L1599.5 1418.9 L1603.5 1419.8 L1607.5 1420.7 L1611.5 1421.6 L1615.5 1422.5 L1619.5 1423.3 L1623.5 1424.2 L1627.5 1425.0 L1631.5 1425.8 L1635.5 1426.6 L1639.5 1427.4 L1643.5 1428.2 L1647.5 1429.0 L1651.5 1429.8 L1655.5 1430.6 L1659.6 1431.3 L1663.6 1432.1 L1667.6 1432.8 L1671.6 1433.6 L1675.6 1434.3 L1679.6 1435.0 L1683.6 1435.7 L1687.6 1436.3 L1691.6 1437.0 L1695.6 1437.7 L1699.6 1438.4 L1703.6 1439.0 L1707.6 1439.7 L1711.6 1440.3 L1715.6 1441.0 L1719.6 1441.6 L1723.6 1442.3 L1727.7 1442.9 L1731.7 1443.6 L1735.7 1444.3 L1739.7 1444.9 L1743.7 1445.6 L1747.7 1446.3 L1751.7 1447.0 L1755.7 1447.6 L1759.7 1448.3 L1763.7 1449.0 L1767.7 1449.6 L1771.7 1450.3 L1775.7 1450.9 L1779.7 1451.6 L1783.7 1452.2 L1787.7 1452.9 L1791.7 1453.5 L1795.7 1454.2 L1799.8 1454.8 L1803.8 1455.4 L1807.8 1456.1 L1811.8 1456.7 L1815.8 1457.3 L1819.8 1458.0 L1823.8 1458.6 L1827.8 1459.2 L1831.8 1459.8 L1835.8 1460.4 L1839.8 1461.1 L1843.8 1461.7 L1847.8 1462.3 L1851.8 1462.9 L1855.8 1463.5 L1859.8 1464.1 L1863.8 1464.7 L1867.8 1465.3 L1871.9 1465.9 L1875.9 1466.5 L1879.9 1467.1 L1883.9 1467.7 L1887.9 1468.2 L1891.9 1468.8 L1895.9 1469.4 L1899.9 1470.0 L1903.9 1470.6 L1907.9 1471.1 L1911.9 1471.7 L1915.9 1472.3 L1919.9 1472.8 L1923.9 1473.4 L1927.9 1474.0 L1931.9 1474.5 L1935.9 1475.1 L1939.9 1475.6 L1944.0 1476.2 L1948.0 1476.7 L1952.0 1477.3 L1956.0 1477.8 L1960.0 1478.4 L1964.0 1478.9 L1968.0 1479.4 L1972.0 1480.0 L1976.0 1480.5 L1980.0 1481.0 L1984.0 1481.5 L1988.0 1482.0 L1992.0 1482.6 L1996.0 1483.1 L2000.0 1483.6 L2004.0 1484.1 L2008.0 1484.6 L2012.0 1485.0 L2016.1 1485.5 L2020.1 1486.0 L2024.1 1486.5 L2028.1 1487.0 L2032.1 1487.4 L2036.1 1487.9 L2040.1 1488.4 L2044.1 1488.8 L2048.1 1489.3 L2052.1 1489.7 L2056.1 1490.2 L2060.1 1490.6 L2064.1 1491.0 L2068.1 1491.5 L2072.1 1491.9 L2076.1 1492.3 L2080.1 1492.7 L2084.2 1493.1 L2088.2 1493.5 L2092.2 1493.9 L2096.2 1494.3 L2100.2 1494.7 L2104.2 1495.1 L2108.2 1495.5 L2112.2 1495.9 L2116.2 1496.3 L2120.2 1496.6 L2124.2 1497.0 L2128.2 1497.4 L2132.2 1497.7 L2136.2 1498.1 L2140.2 1498.5 L2144.2 1498.8 L2148.2 1499.2 L2152.2 1499.5 L2156.3 1499.8 L2160.3 1500.2 L2164.3 1500.5 L2168.3 1500.8 L2172.3 1501.2 L2176.3 1501.5 L2180.3 1501.8 L2184.3 1502.1 L2188.3 1502.4 L2192.3 1502.7 L2196.3 1503.0 L2200.3 1503.3 L2204.3 1503.6 L2208.3 1503.9 L2212.3 1504.2 L2216.3 1504.5 L2220.3 1504.8 L2224.3 1505.1 L2228.4 1505.4 L2232.4 1505.6 L2236.4 1505.9 L2240.4 1506.2 L2244.4 1506.5 L2248.4 1506.7 L2252.4 1507.0 L2256.4 1507.3 L2260.4 1507.5 L2264.4 1507.8 L2268.4 1508.1 L2272.4 1508.3 L2276.4 1508.6 L2280.4 1508.8 L2284.4 1509.1 L2288.4 1509.3 L2292.4 1509.6 L2296.4 1509.8 L2300.5 1510.1 L2304.5 1510.3 L2308.5 1510.6 L2312.5 1510.8 L2316.5 1511.1 L2320.5 1511.3 L2324.5 1511.6 L2328.5 1511.8 L2332.5 1512.0" stroke="#0000ff"/>
</g>
<g stroke="#000" stroke-width="8.6">
<line x1="367.9" y1="1544.8" x2="406.4" y2="1544.8"/>
<line x1="387.9" y1="1506.6" x2="406.4" y2="1506.6"/>
<line x1="387.9" y1="1468.5" x2="406.4" y2="1468.5"/>
<line x1="387.9" y1="1430.3" x2="406.4" y2="1430.3"/>
<line x1="387.9" y1="1392.1" x2="406.4" y2="1392.1"/>
<line x1="367.9" y1="1353.9" x2="406.4" y2="1353.9"/>
<line x1="387.9" y1="1315.8" x2="406.4" y2="1315.8"/>
<line x1="387.9" y1="1277.6" x2="406.4" y2="1277.6"/>
<line x1="387.9" y1="1239.4" x2="406.4" y2="1239.4"/>
<line x1="387.9" y1="1201.3" x2="406.4" y2="1201.3"/>
<line x1="367.9" y1="1163.1" x2="406.4" y2="1163.1"/>
<line x1="387.9" y1="1124.9" x2="406.4" y2="1124.9"/>
<line x1="387.9" y1="1086.7" x2="406.4" y2="1086.7"/>
<line x1="387.9" y1="1048.6" x2="406.4" y2="1048.6"/>
<line x1="387.9" y1="1010.4" x2="406.4" y2="1010.4"/>
<line x1="367.9" y1="972.2" x2="406.4" y2="972.2"/>
<line x1="387.9" y1="934.0" x2="406.4" y2="934.0"/>
<line x1="387.9" y1="895.9" x2="406.4" y2="895.9"/>
<line x1="387.9" y1="857.7" x2="406.4" y2="857.7"/>
<line x1="387.9" y1="819.5" x2="406.4" y2="819.5"/>
<line x1="367.9" y1="781.4" x2="406.4" y2="781.4"/>
<line x1="387.9" y1="743.2" x2="406.4" y2="743.2"/>
<line x1="387.9" y1="705.0" x2="406.4" y2="705.0"/>
<line x1="387.9" y1="666.8" x2="406.4" y2="666.8"/>
<line x1="387.9" y1="628.7" x2="406.4" y2="628.7"/>
<line x1="367.9" y1="590.5" x2="406.4" y2="590.5"/>
<line x1="387.9" y1="552.3" x2="406.4" y2="552.3"/>
<line x1="387.9" y1="514.2" x2="406.4" y2="514.2"/>
<line x1="387.9" y1="476.0" x2="406.4" y2="476.0"/>
<line x1="387.9" y1="437.8" x2="406.4" y2="437.8"/>
<line x1="367.9" y1="399.6" x2="406.4" y2="399.6"/>
<line x1="387.9" y1="361.5" x2="406.4" y2="361.5"/>
<line x1="387.9" y1="323.3" x2="406.4" y2="323.3"/>
<line x1="387.9" y1="285.1" x2="406.4" y2="285.1"/>
<line x1="387.9" y1="247.0" x2="406.4" y2="247.0"/>
<line x1="367.9" y1="208.8" x2="406.4" y2="208.8"/>
<line x1="387.9" y1="170.6" x2="406.4" y2="170.6"/>
<line x1="387.9" y1="132.4" x2="406.4" y2="132.4"/>
<line x1="444.7" y1="1547.9" x2="444.7" y2="1566.4"/>
<line x1="514.6" y1="1547.9" x2="514.6" y2="1566.4"/>
<line x1="584.5" y1="1547.9" x2="584.5" y2="1586.4"/>
<line x1="654.4" y1="1547.9" x2="654.4" y2="1566.4"/>
<line x1="724.3" y1="1547.9" x2="724.3" y2="1566.4"/>
<line x1="794.2" y1="1547.9" x2="794.2" y2="1566.4"/>
<line x1="864.1" y1="1547.9" x2="864.1" y2="1566.4"/>
<line x1="934.0" y1="1547.9" x2="934.0" y2="1586.4"/>
<line x1="1004.0" y1="1547.9" x2="1004.0" y2="1566.4"/>
<line x1="1073.9" y1="1547.9" x2="1073.9" y2="1566.4"/>
<line x1="1143.8" y1="1547.9" x2="1143.8" y2="1566.4"/>
<line x1="1213.7" y1="1547.9" x2="1213.7" y2="1566.4"/>
<line x1="1283.6" y1="1547.9" x2="1283.6" y2="1586.4"/>
<line x1="1353.5" y1="1547.9" x2="1353.5" y2="1566.4"/>
<line x1="1423.4" y1="1547.9" x2="1423.4" y2="1566.4"/>
<line x1="1493.3" y1="1547.9" x2="1493.3" y2="1566.4"/>
<line x1="1563.2" y1="1547.9" x2="1563.2" y2="1566.4"/>
<line x1="1633.1" y1="1547.9" x2="1633.1" y2="1586.4"/>
<line x1="1703.1" y1="1547.9" x2="1703.1" y2="1566.4"/>
<line x1="1773.0" y1="1547.9" x2="1773.0" y2="1566.4"/>
<line x1="1842.9" y1="1547.9" x2="1842.9" y2="1566.4"/>
<line x1="1912.8" y1="1547.9" x2="1912.8" y2="1566.4"/>
<line x1="1982.7" y1="1547.9" x2="1982.7" y2="1586.4"/>
<line x1="2052.6" y1="1547.9" x2="2052.6" y2="1566.4"/>
<line x1="2122.5" y1="1547.9" x2="2122.5" y2="1566.4"/>
<line x1="2192.4" y1="1547.9" x2="2192.4" y2="1566.4"/>
<line x1="2262.3" y1="1547.9" x2="2262.3" y2="1566.4"/>
<line x1="2332.2" y1="1547.9" x2="2332.2" y2="1586.4"/>
</g>
<text transform="translate(339.5 1569.2) scale(0.95 1)" font-size="84" text-anchor="end">0.0</text>
<text transform="translate(339.5 1378.3) scale(0.95 1)" font-size="84" text-anchor="end">0.1</text>
<text transform="translate(339.5 1187.5) scale(0.95 1)" font-size="84" text-anchor="end">0.2</text>
<text transform="translate(339.5 996.6) scale(0.95 1)" font-size="84" text-anchor="end">0.3</text>
<text transform="translate(339.5 805.8) scale(0.95 1)" font-size="84" text-anchor="end">0.4</text>
<text transform="translate(339.5 614.9) scale(0.95 1)" font-size="84" text-anchor="end">0.5</text>
<text transform="translate(339.5 424.0) scale(0.95 1)" font-size="84" text-anchor="end">0.6</text>
<text transform="translate(339.5 233.2) scale(0.95 1)" font-size="84" text-anchor="end">0.7</text>
<text transform="translate(584.0 1677.8) scale(0.95 1)" font-size="84" text-anchor="middle">300</text>
<text transform="translate(933.5 1677.8) scale(0.95 1)" font-size="84" text-anchor="middle">400</text>
<text transform="translate(1283.1 1677.8) scale(0.95 1)" font-size="84" text-anchor="middle">500</text>
<text transform="translate(1632.6 1677.8) scale(0.95 1)" font-size="84" text-anchor="middle">600</text>
<text transform="translate(1982.2 1677.8) scale(0.95 1)" font-size="84" text-anchor="middle">700</text>
<text transform="translate(2331.8 1677.8) scale(0.95 1)" font-size="84" text-anchor="middle">800</text>
<text transform="translate(1371.3 1796.4)" font-size="86.5" text-anchor="middle">Wavelength (nm)</text>
<text transform="translate(198.2 827.6) rotate(-90)" font-size="87" text-anchor="middle">Abs.</text>
<text transform="translate(66.5 128.8) scale(1.05 1)" font-size="112" text-anchor="start">(a)</text>
<line x1="1842" y1="233.0" x2="2003" y2="233.0" stroke="#000000" stroke-width="9.4"/>
<text transform="translate(2016.0 257.5) scale(0.96 1)" font-size="77" text-anchor="start">Original</text>
<line x1="1842" y1="324.7" x2="2003" y2="324.7" stroke="#808000" stroke-width="9.4"/>
<text transform="translate(2016.0 349.2) scale(0.96 1)" font-size="77" text-anchor="start">0.4 V</text>
<line x1="1842" y1="416.4" x2="2003" y2="416.4" stroke="#008000" stroke-width="9.4"/>
<text transform="translate(2016.0 440.9) scale(0.96 1)" font-size="77" text-anchor="start">0.6 V</text>
<line x1="1842" y1="508.0" x2="2003" y2="508.0" stroke="#800080" stroke-width="9.4"/>
<text transform="translate(2016.0 532.5) scale(0.96 1)" font-size="77" text-anchor="start">0.8 V</text>
<line x1="1842" y1="599.7" x2="2003" y2="599.7" stroke="#ff00ff" stroke-width="9.4"/>
<text transform="translate(2016.0 624.2) scale(0.96 1)" font-size="77" text-anchor="start">1 V</text>
<line x1="1842" y1="691.4" x2="2003" y2="691.4" stroke="#ff0080" stroke-width="9.4"/>
<text transform="translate(2016.0 715.9) scale(0.96 1)" font-size="77" text-anchor="start">1.2 V</text>
<line x1="1842" y1="783.1" x2="2003" y2="783.1" stroke="#ff0000" stroke-width="9.4"/>
<text transform="translate(2016.0 807.6) scale(0.96 1)" font-size="77" text-anchor="start">1.4 V</text>
<line x1="1842" y1="874.8" x2="2003" y2="874.8" stroke="#0000ff" stroke-width="9.4"/>
<text transform="translate(2016.0 899.3) scale(0.96 1)" font-size="77" text-anchor="start">0 V</text>
<rect x="407.8" y="2006.5" width="1925.2" height="1432.0" fill="none" stroke="#000" stroke-width="8.8"/>
<clipPath id="cb"><rect x="407.8" y="2006.5" width="1925.2" height="1432.0"/></clipPath>
<g clip-path="url(#cb)" fill="none" stroke-width="10.0" stroke-linejoin="round" stroke-linecap="butt">
<path d="M407.8 2048.2 L411.8 2048.0 L415.8 2047.8 L419.8 2047.7 L423.8 2047.6 L427.8 2047.7 L431.8 2048.1 L435.8 2048.6 L439.8 2049.5 L443.8 2050.6 L447.8 2052.0 L451.8 2053.8 L455.8 2055.9 L459.8 2058.3 L463.8 2061.2 L467.8 2064.4 L471.8 2068.0 L475.8 2072.0 L479.8 2076.4 L483.8 2081.2 L487.8 2086.4 L491.9 2092.1 L495.9 2098.1 L499.9 2104.6 L503.9 2111.4 L507.9 2118.7 L511.9 2126.3 L515.9 2134.3 L519.9 2142.7 L523.9 2151.4 L527.9 2160.4 L531.9 2169.7 L535.9 2179.3 L539.9 2189.2 L543.9 2199.3 L547.9 2209.6 L551.9 2220.2 L555.9 2230.9 L559.9 2241.8 L563.9 2252.8 L567.9 2263.9 L571.9 2275.1 L575.9 2286.4 L579.9 2297.8 L583.9 2309.3 L587.9 2320.7 L591.9 2332.3 L595.9 2343.8 L599.9 2355.3 L603.9 2366.8 L607.9 2378.3 L611.9 2389.8 L615.9 2401.2 L619.9 2412.5 L623.9 2423.8 L627.9 2435.0 L631.9 2446.2 L635.9 2457.2 L639.9 2468.1 L643.9 2478.9 L647.9 2489.6 L652.0 2500.2 L656.0 2510.6 L660.0 2520.8 L664.0 2530.9 L668.0 2540.8 L672.0 2550.6 L676.0 2560.1 L680.0 2569.4 L684.0 2578.6 L688.0 2587.4 L692.0 2596.1 L696.0 2604.5 L700.0 2612.6 L704.0 2620.5 L708.0 2628.1 L712.0 2635.4 L716.0 2642.4 L720.0 2649.1 L724.0 2655.5 L728.0 2661.6 L732.0 2667.5 L736.0 2673.0 L740.0 2678.2 L744.0 2683.2 L748.0 2687.8 L752.0 2692.2 L756.0 2696.3 L760.0 2700.2 L764.0 2703.8 L768.0 2707.1 L772.0 2710.3 L776.0 2713.3 L780.0 2716.1 L784.0 2718.8 L788.0 2721.3 L792.0 2723.8 L796.0 2726.1 L800.0 2728.4 L804.0 2730.7 L808.0 2732.9 L812.1 2735.1 L816.1 2737.4 L820.1 2739.6 L824.1 2741.8 L828.1 2744.2 L832.1 2746.5 L836.1 2748.9 L840.1 2751.4 L844.1 2754.0 L848.1 2756.6 L852.1 2759.4 L856.1 2762.2 L860.1 2765.2 L864.1 2768.3 L868.1 2771.5 L872.1 2774.8 L876.1 2778.2 L880.1 2781.7 L884.1 2785.3 L888.1 2789.1 L892.1 2793.0 L896.1 2796.9 L900.1 2801.1 L904.1 2805.3 L908.1 2809.6 L912.1 2814.1 L916.1 2818.7 L920.1 2823.4 L924.1 2828.3 L928.1 2833.2 L932.1 2838.3 L936.1 2843.5 L940.1 2848.8 L944.1 2854.2 L948.1 2859.7 L952.1 2865.3 L956.1 2870.9 L960.1 2876.6 L964.1 2882.4 L968.1 2888.2 L972.2 2894.0 L976.2 2899.8 L980.2 2905.7 L984.2 2911.5 L988.2 2917.2 L992.2 2923.0 L996.2 2928.6 L1000.2 2934.3 L1004.2 2939.8 L1008.2 2945.3 L1012.2 2950.6 L1016.2 2955.9 L1020.2 2961.1 L1024.2 2966.1 L1028.2 2971.1 L1032.2 2975.9 L1036.2 2980.6 L1040.2 2985.1 L1044.2 2989.6 L1048.2 2993.9 L1052.2 2998.1 L1056.2 3002.1 L1060.2 3006.0 L1064.2 3009.9 L1068.2 3013.6 L1072.2 3017.2 L1076.2 3020.7 L1080.2 3024.1 L1084.2 3027.4 L1088.2 3030.7 L1092.2 3033.9 L1096.2 3037.0 L1100.2 3040.1 L1104.2 3043.1 L1108.2 3046.1 L1112.2 3049.1 L1116.2 3052.0 L1120.2 3054.9 L1124.2 3057.8 L1128.2 3060.6 L1132.3 3063.4 L1136.3 3066.3 L1140.3 3069.1 L1144.3 3071.9 L1148.3 3074.7 L1152.3 3077.5 L1156.3 3080.3 L1160.3 3083.1 L1164.3 3085.9 L1168.3 3088.6 L1172.3 3091.4 L1176.3 3094.1 L1180.3 3096.8 L1184.3 3099.4 L1188.3 3102.0 L1192.3 3104.5 L1196.3 3107.0 L1200.3 3109.4 L1204.3 3111.8 L1208.3 3114.1 L1212.3 3116.3 L1216.3 3118.5 L1220.3 3120.6 L1224.3 3122.7 L1228.3 3124.6 L1232.3 3126.5 L1236.3 3128.4 L1240.3 3130.1 L1244.3 3131.9 L1248.3 3133.5 L1252.3 3135.1 L1256.3 3136.7 L1260.3 3138.2 L1264.3 3139.8 L1268.3 3141.2 L1272.3 3142.7 L1276.3 3144.2 L1280.3 3145.6 L1284.3 3147.0 L1288.3 3148.5 L1292.4 3150.0 L1296.4 3151.5 L1300.4 3153.0 L1304.4 3154.5 L1308.4 3156.1 L1312.4 3157.8 L1316.4 3159.5 L1320.4 3161.2 L1324.4 3163.0 L1328.4 3164.8 L1332.4 3166.7 L1336.4 3168.6 L1340.4 3170.6 L1344.4 3172.7 L1348.4 3174.8 L1352.4 3177.0 L1356.4 3179.2 L1360.4 3181.5 L1364.4 3183.8 L1368.4 3186.1 L1372.4 3188.5 L1376.4 3190.9 L1380.4 3193.2 L1384.4 3195.7 L1388.4 3198.1 L1392.4 3200.5 L1396.4 3202.9 L1400.4 3205.3 L1404.4 3207.6 L1408.4 3210.0 L1412.4 3212.3 L1416.4 3214.6 L1420.4 3216.9 L1424.4 3219.2 L1428.4 3221.4 L1432.4 3223.5 L1436.4 3225.7 L1440.4 3227.8 L1444.4 3229.9 L1448.4 3231.9 L1452.5 3233.9 L1456.5 3235.9 L1460.5 3237.8 L1464.5 3239.7 L1468.5 3241.6 L1472.5 3243.4 L1476.5 3245.3 L1480.5 3247.0 L1484.5 3248.8 L1488.5 3250.5 L1492.5 3252.2 L1496.5 3253.9 L1500.5 3255.5 L1504.5 3257.1 L1508.5 3258.6 L1512.5 3260.2 L1516.5 3261.7 L1520.5 3263.2 L1524.5 3264.6 L1528.5 3266.1 L1532.5 3267.5 L1536.5 3268.9 L1540.5 3270.3 L1544.5 3271.7 L1548.5 3273.0 L1552.5 3274.4 L1556.5 3275.7 L1560.5 3277.1 L1564.5 3278.4 L1568.5 3279.6 L1572.5 3280.9 L1576.5 3282.1 L1580.5 3283.3 L1584.5 3284.4 L1588.5 3285.6 L1592.5 3286.7 L1596.5 3287.7 L1600.5 3288.8 L1604.5 3289.8 L1608.5 3290.8 L1612.6 3291.7 L1616.6 3292.6 L1620.6 3293.5 L1624.6 3294.4 L1628.6 3295.3 L1632.6 3296.1 L1636.6 3296.9 L1640.6 3297.7 L1644.6 3298.4 L1648.6 3299.2 L1652.6 3299.9 L1656.6 3300.6 L1660.6 3301.3 L1664.6 3302.0 L1668.6 3302.6 L1672.6 3303.3 L1676.6 3303.9 L1680.6 3304.5 L1684.6 3305.2 L1688.6 3305.8 L1692.6 3306.4 L1696.6 3306.9 L1700.6 3307.5 L1704.6 3308.1 L1708.6 3308.7 L1712.6 3309.3 L1716.6 3309.8 L1720.6 3310.4 L1724.6 3311.0 L1728.6 3311.6 L1732.6 3312.2 L1736.6 3312.8 L1740.6 3313.4 L1744.6 3314.0 L1748.6 3314.6 L1752.6 3315.3 L1756.6 3316.0 L1760.6 3316.6 L1764.6 3317.3 L1768.6 3318.0 L1772.7 3318.7 L1776.7 3319.4 L1780.7 3320.1 L1784.7 3320.9 L1788.7 3321.6 L1792.7 3322.3 L1796.7 3323.0 L1800.7 3323.7 L1804.7 3324.4 L1808.7 3325.1 L1812.7 3325.8 L1816.7 3326.5 L1820.7 3327.2 L1824.7 3327.9 L1828.7 3328.6 L1832.7 3329.3 L1836.7 3330.1 L1840.7 3330.8 L1844.7 3331.5 L1848.7 3332.2 L1852.7 3332.9 L1856.7 3333.6 L1860.7 3334.3 L1864.7 3335.0 L1868.7 3335.7 L1872.7 3336.4 L1876.7 3337.1 L1880.7 3337.8 L1884.7 3338.5 L1888.7 3339.2 L1892.7 3339.9 L1896.7 3340.6 L1900.7 3341.3 L1904.7 3342.0 L1908.7 3342.7 L1912.7 3343.4 L1916.7 3344.1 L1920.7 3344.8 L1924.7 3345.5 L1928.7 3346.2 L1932.8 3346.9 L1936.8 3347.6 L1940.8 3348.3 L1944.8 3349.1 L1948.8 3349.8 L1952.8 3350.5 L1956.8 3351.2 L1960.8 3351.9 L1964.8 3352.6 L1968.8 3353.3 L1972.8 3354.1 L1976.8 3354.8 L1980.8 3355.5 L1984.8 3356.2 L1988.8 3356.9 L1992.8 3357.6 L1996.8 3358.3 L2000.8 3359.0 L2004.8 3359.7 L2008.8 3360.3 L2012.8 3361.0 L2016.8 3361.6 L2020.8 3362.3 L2024.8 3362.9 L2028.8 3363.5 L2032.8 3364.2 L2036.8 3364.8 L2040.8 3365.3 L2044.8 3365.9 L2048.8 3366.5 L2052.8 3367.0 L2056.8 3367.6 L2060.8 3368.1 L2064.8 3368.6 L2068.8 3369.1 L2072.8 3369.6 L2076.8 3370.1 L2080.8 3370.5 L2084.8 3371.0 L2088.8 3371.5 L2092.9 3371.9 L2096.9 3372.4 L2100.9 3372.8 L2104.9 3373.2 L2108.9 3373.6 L2112.9 3374.0 L2116.9 3374.5 L2120.9 3374.9 L2124.9 3375.3 L2128.9 3375.7 L2132.9 3376.0 L2136.9 3376.4 L2140.9 3376.8 L2144.9 3377.2 L2148.9 3377.5 L2152.9 3377.9 L2156.9 3378.3 L2160.9 3378.6 L2164.9 3378.9 L2168.9 3379.3 L2172.9 3379.6 L2176.9 3379.9 L2180.9 3380.2 L2184.9 3380.5 L2188.9 3380.8 L2192.9 3381.1 L2196.9 3381.3 L2200.9 3381.6 L2204.9 3381.8 L2208.9 3382.1 L2212.9 3382.3 L2216.9 3382.5 L2220.9 3382.7 L2224.9 3382.9 L2228.9 3383.1 L2232.9 3383.3 L2236.9 3383.5 L2240.9 3383.6 L2244.9 3383.8 L2248.9 3383.9 L2253.0 3384.1 L2257.0 3384.2 L2261.0 3384.3 L2265.0 3384.4 L2269.0 3384.5 L2273.0 3384.7 L2277.0 3384.8 L2281.0 3384.9 L2285.0 3384.9 L2289.0 3385.0 L2293.0 3385.1 L2297.0 3385.2 L2301.0 3385.3 L2305.0 3385.4 L2309.0 3385.4 L2313.0 3385.5 L2317.0 3385.6 L2321.0 3385.6 L2325.0 3385.7 L2329.0 3385.8 L2333.0 3385.8" stroke="#ff0000"/>
<path d="M407.8 2073.9 L411.8 2077.5 L415.8 2082.2 L419.8 2086.9 L423.8 2091.7 L427.8 2096.6 L431.8 2101.6 L435.8 2106.7 L439.8 2112.0 L443.8 2117.4 L447.8 2123.0 L451.8 2128.7 L455.8 2134.7 L459.8 2140.9 L463.8 2147.3 L467.8 2153.9 L471.8 2160.8 L475.8 2167.9 L479.8 2175.2 L483.8 2182.8 L487.8 2190.7 L491.9 2198.8 L495.9 2207.1 L499.9 2215.7 L503.9 2224.5 L507.9 2233.5 L511.9 2242.8 L515.9 2252.2 L519.9 2261.9 L523.9 2271.8 L527.9 2281.9 L531.9 2292.1 L535.9 2302.5 L539.9 2313.1 L543.9 2323.7 L547.9 2334.5 L551.9 2345.4 L555.9 2356.4 L559.9 2367.4 L563.9 2378.5 L567.9 2389.7 L571.9 2400.9 L575.9 2412.1 L579.9 2423.4 L583.9 2434.6 L587.9 2445.9 L591.9 2457.2 L595.9 2468.4 L599.9 2479.6 L603.9 2490.8 L607.9 2502.0 L611.9 2513.1 L615.9 2524.2 L619.9 2535.2 L623.9 2546.1 L627.9 2556.9 L631.9 2567.6 L635.9 2578.3 L639.9 2588.8 L643.9 2599.2 L647.9 2609.4 L652.0 2619.6 L656.0 2629.5 L660.0 2639.4 L664.0 2649.0 L668.0 2658.5 L672.0 2667.9 L676.0 2677.0 L680.0 2686.0 L684.0 2694.8 L688.0 2703.4 L692.0 2711.8 L696.0 2720.0 L700.0 2728.0 L704.0 2735.7 L708.0 2743.2 L712.0 2750.5 L716.0 2757.5 L720.0 2764.3 L724.0 2770.8 L728.0 2777.1 L732.0 2783.0 L736.0 2788.7 L740.0 2794.0 L744.0 2799.1 L748.0 2803.9 L752.0 2808.4 L756.0 2812.7 L760.0 2816.6 L764.0 2820.3 L768.0 2823.8 L772.0 2827.0 L776.0 2830.0 L780.0 2832.8 L784.0 2835.5 L788.0 2838.0 L792.0 2840.3 L796.0 2842.6 L800.0 2844.8 L804.0 2846.9 L808.0 2848.9 L812.1 2851.0 L816.1 2853.0 L820.1 2854.9 L824.1 2856.9 L828.1 2859.0 L832.1 2861.0 L836.1 2863.1 L840.1 2865.3 L844.1 2867.5 L848.1 2869.8 L852.1 2872.1 L856.1 2874.6 L860.1 2877.1 L864.1 2879.7 L868.1 2882.4 L872.1 2885.2 L876.1 2888.1 L880.1 2891.1 L884.1 2894.3 L888.1 2897.5 L892.1 2900.8 L896.1 2904.3 L900.1 2907.8 L904.1 2911.5 L908.1 2915.2 L912.1 2919.1 L916.1 2923.0 L920.1 2927.0 L924.1 2931.0 L928.1 2935.2 L932.1 2939.4 L936.1 2943.6 L940.1 2947.9 L944.1 2952.2 L948.1 2956.6 L952.1 2961.0 L956.1 2965.4 L960.1 2969.8 L964.1 2974.2 L968.1 2978.7 L972.2 2983.1 L976.2 2987.4 L980.2 2991.7 L984.2 2996.0 L988.2 3000.2 L992.2 3004.4 L996.2 3008.5 L1000.2 3012.5 L1004.2 3016.5 L1008.2 3020.4 L1012.2 3024.2 L1016.2 3027.9 L1020.2 3031.5 L1024.2 3035.1 L1028.2 3038.5 L1032.2 3041.9 L1036.2 3045.2 L1040.2 3048.4 L1044.2 3051.5 L1048.2 3054.6 L1052.2 3057.5 L1056.2 3060.4 L1060.2 3063.3 L1064.2 3066.1 L1068.2 3068.9 L1072.2 3071.6 L1076.2 3074.3 L1080.2 3076.9 L1084.2 3079.6 L1088.2 3082.2 L1092.2 3084.9 L1096.2 3087.5 L1100.2 3090.1 L1104.2 3092.7 L1108.2 3095.3 L1112.2 3097.9 L1116.2 3100.5 L1120.2 3103.1 L1124.2 3105.7 L1128.2 3108.3 L1132.3 3110.9 L1136.3 3113.6 L1140.3 3116.2 L1144.3 3118.8 L1148.3 3121.5 L1152.3 3124.2 L1156.3 3126.9 L1160.3 3129.6 L1164.3 3132.3 L1168.3 3135.0 L1172.3 3137.7 L1176.3 3140.3 L1180.3 3143.0 L1184.3 3145.6 L1188.3 3148.2 L1192.3 3150.7 L1196.3 3153.2 L1200.3 3155.7 L1204.3 3158.1 L1208.3 3160.4 L1212.3 3162.7 L1216.3 3164.9 L1220.3 3167.0 L1224.3 3169.0 L1228.3 3170.9 L1232.3 3172.8 L1236.3 3174.5 L1240.3 3176.2 L1244.3 3177.8 L1248.3 3179.3 L1252.3 3180.7 L1256.3 3182.1 L1260.3 3183.4 L1264.3 3184.7 L1268.3 3185.9 L1272.3 3187.0 L1276.3 3188.1 L1280.3 3189.2 L1284.3 3190.3 L1288.3 3191.3 L1292.4 3192.3 L1296.4 3193.4 L1300.4 3194.4 L1304.4 3195.5 L1308.4 3196.5 L1312.4 3197.6 L1316.4 3198.7 L1320.4 3199.9 L1324.4 3201.1 L1328.4 3202.3 L1332.4 3203.6 L1336.4 3204.9 L1340.4 3206.3 L1344.4 3207.8 L1348.4 3209.3 L1352.4 3210.8 L1356.4 3212.5 L1360.4 3214.1 L1364.4 3215.9 L1368.4 3217.6 L1372.4 3219.4 L1376.4 3221.3 L1380.4 3223.1 L1384.4 3225.0 L1388.4 3227.0 L1392.4 3228.9 L1396.4 3230.9 L1400.4 3232.8 L1404.4 3234.8 L1408.4 3236.8 L1412.4 3238.8 L1416.4 3240.7 L1420.4 3242.7 L1424.4 3244.6 L1428.4 3246.5 L1432.4 3248.4 L1436.4 3250.3 L1440.4 3252.1 L1444.4 3253.9 L1448.4 3255.7 L1452.5 3257.4 L1456.5 3259.1 L1460.5 3260.8 L1464.5 3262.4 L1468.5 3264.0 L1472.5 3265.5 L1476.5 3267.0 L1480.5 3268.5 L1484.5 3269.9 L1488.5 3271.3 L1492.5 3272.6 L1496.5 3273.9 L1500.5 3275.2 L1504.5 3276.4 L1508.5 3277.6 L1512.5 3278.7 L1516.5 3279.9 L1520.5 3281.0 L1524.5 3282.1 L1528.5 3283.1 L1532.5 3284.2 L1536.5 3285.2 L1540.5 3286.2 L1544.5 3287.2 L1548.5 3288.1 L1552.5 3289.1 L1556.5 3290.0 L1560.5 3290.9 L1564.5 3291.8 L1568.5 3292.7 L1572.5 3293.6 L1576.5 3294.4 L1580.5 3295.3 L1584.5 3296.1 L1588.5 3296.9 L1592.5 3297.7 L1596.5 3298.5 L1600.5 3299.3 L1604.5 3300.1 L1608.5 3300.8 L1612.6 3301.5 L1616.6 3302.2 L1620.6 3302.9 L1624.6 3303.6 L1628.6 3304.3 L1632.6 3304.9 L1636.6 3305.6 L1640.6 3306.2 L1644.6 3306.8 L1648.6 3307.4 L1652.6 3308.0 L1656.6 3308.6 L1660.6 3309.2 L1664.6 3309.8 L1668.6 3310.4 L1672.6 3310.9 L1676.6 3311.5 L1680.6 3312.1 L1684.6 3312.6 L1688.6 3313.2 L1692.6 3313.7 L1696.6 3314.3 L1700.6 3314.8 L1704.6 3315.4 L1708.6 3315.9 L1712.6 3316.4 L1716.6 3316.9 L1720.6 3317.4 L1724.6 3318.0 L1728.6 3318.5 L1732.6 3319.0 L1736.6 3319.6 L1740.6 3320.1 L1744.6 3320.7 L1748.6 3321.3 L1752.6 3321.9 L1756.6 3322.5 L1760.6 3323.1 L1764.6 3323.8 L1768.6 3324.4 L1772.7 3325.1 L1776.7 3325.7 L1780.7 3326.4 L1784.7 3327.1 L1788.7 3327.7 L1792.7 3328.4 L1796.7 3329.1 L1800.7 3329.7 L1804.7 3330.4 L1808.7 3331.0 L1812.7 3331.7 L1816.7 3332.4 L1820.7 3333.0 L1824.7 3333.7 L1828.7 3334.3 L1832.7 3335.0 L1836.7 3335.6 L1840.7 3336.3 L1844.7 3336.9 L1848.7 3337.6 L1852.7 3338.2 L1856.7 3338.8 L1860.7 3339.5 L1864.7 3340.1 L1868.7 3340.8 L1872.7 3341.4 L1876.7 3342.1 L1880.7 3342.7 L1884.7 3343.4 L1888.7 3344.1 L1892.7 3344.7 L1896.7 3345.4 L1900.7 3346.0 L1904.7 3346.7 L1908.7 3347.3 L1912.7 3348.0 L1916.7 3348.7 L1920.7 3349.3 L1924.7 3350.0 L1928.7 3350.7 L1932.8 3351.3 L1936.8 3352.0 L1940.8 3352.7 L1944.8 3353.3 L1948.8 3354.0 L1952.8 3354.7 L1956.8 3355.4 L1960.8 3356.0 L1964.8 3356.7 L1968.8 3357.4 L1972.8 3358.1 L1976.8 3358.7 L1980.8 3359.4 L1984.8 3360.1 L1988.8 3360.8 L1992.8 3361.4 L1996.8 3362.1 L2000.8 3362.7 L2004.8 3363.4 L2008.8 3364.0 L2012.8 3364.7 L2016.8 3365.3 L2020.8 3365.9 L2024.8 3366.5 L2028.8 3367.1 L2032.8 3367.7 L2036.8 3368.3 L2040.8 3368.8 L2044.8 3369.4 L2048.8 3369.9 L2052.8 3370.5 L2056.8 3371.0 L2060.8 3371.5 L2064.8 3372.0 L2068.8 3372.5 L2072.8 3373.0 L2076.8 3373.5 L2080.8 3373.9 L2084.8 3374.4 L2088.8 3374.9 L2092.9 3375.3 L2096.9 3375.7 L2100.9 3376.2 L2104.9 3376.6 L2108.9 3377.0 L2112.9 3377.4 L2116.9 3377.8 L2120.9 3378.3 L2124.9 3378.7 L2128.9 3379.0 L2132.9 3379.4 L2136.9 3379.8 L2140.9 3380.2 L2144.9 3380.6 L2148.9 3381.0 L2152.9 3381.3 L2156.9 3381.7 L2160.9 3382.0 L2164.9 3382.4 L2168.9 3382.7 L2172.9 3383.0 L2176.9 3383.3 L2180.9 3383.7 L2184.9 3384.0 L2188.9 3384.3 L2192.9 3384.5 L2196.9 3384.8 L2200.9 3385.1 L2204.9 3385.3 L2208.9 3385.6 L2212.9 3385.8 L2216.9 3386.0 L2220.9 3386.3 L2224.9 3386.5 L2228.9 3386.7 L2232.9 3386.9 L2236.9 3387.0 L2240.9 3387.2 L2244.9 3387.4 L2248.9 3387.5 L2253.0 3387.7 L2257.0 3387.8 L2261.0 3388.0 L2265.0 3388.1 L2269.0 3388.2 L2273.0 3388.3 L2277.0 3388.5 L2281.0 3388.6 L2285.0 3388.7 L2289.0 3388.8 L2293.0 3388.9 L2297.0 3389.0 L2301.0 3389.1 L2305.0 3389.2 L2309.0 3389.2 L2313.0 3389.3 L2317.0 3389.4 L2321.0 3389.5 L2325.0 3389.6 L2329.0 3389.7 L2333.0 3389.7" stroke="#800000"/>
<path d="M407.8 2195.5 L411.8 2204.2 L415.8 2215.4 L419.8 2226.6 L423.8 2237.8 L427.8 2249.0 L431.8 2260.3 L435.8 2271.5 L439.8 2282.7 L443.8 2293.9 L447.8 2305.1 L451.8 2316.3 L455.8 2327.5 L459.8 2338.7 L463.8 2349.9 L467.8 2361.1 L471.8 2372.3 L475.8 2383.6 L479.8 2394.8 L483.8 2406.0 L487.8 2417.2 L491.9 2428.5 L495.9 2439.7 L499.9 2450.9 L503.9 2462.2 L507.9 2473.5 L511.9 2484.7 L515.9 2496.0 L519.9 2507.2 L523.9 2518.5 L527.9 2529.8 L531.9 2541.0 L535.9 2552.3 L539.9 2563.5 L543.9 2574.7 L547.9 2585.9 L551.9 2597.1 L555.9 2608.2 L559.9 2619.3 L563.9 2630.3 L567.9 2641.3 L571.9 2652.2 L575.9 2663.0 L579.9 2673.8 L583.9 2684.5 L587.9 2695.1 L591.9 2705.6 L595.9 2716.0 L599.9 2726.4 L603.9 2736.6 L607.9 2746.6 L611.9 2756.6 L615.9 2766.4 L619.9 2776.1 L623.9 2785.7 L627.9 2795.2 L631.9 2804.5 L635.9 2813.6 L639.9 2822.7 L643.9 2831.5 L647.9 2840.3 L652.0 2848.8 L656.0 2857.2 L660.0 2865.5 L664.0 2873.6 L668.0 2881.5 L672.0 2889.2 L676.0 2896.8 L680.0 2904.2 L684.0 2911.5 L688.0 2918.5 L692.0 2925.4 L696.0 2932.1 L700.0 2938.6 L704.0 2944.9 L708.0 2951.0 L712.0 2956.9 L716.0 2962.6 L720.0 2968.1 L724.0 2973.4 L728.0 2978.6 L732.0 2983.5 L736.0 2988.2 L740.0 2992.8 L744.0 2997.2 L748.0 3001.4 L752.0 3005.4 L756.0 3009.2 L760.0 3013.0 L764.0 3016.5 L768.0 3019.9 L772.0 3023.3 L776.0 3026.4 L780.0 3029.5 L784.0 3032.5 L788.0 3035.4 L792.0 3038.3 L796.0 3041.0 L800.0 3043.7 L804.0 3046.4 L808.0 3049.0 L812.1 3051.5 L816.1 3054.0 L820.1 3056.5 L824.1 3059.0 L828.1 3061.4 L832.1 3063.8 L836.1 3066.2 L840.1 3068.5 L844.1 3070.9 L848.1 3073.2 L852.1 3075.6 L856.1 3077.9 L860.1 3080.2 L864.1 3082.4 L868.1 3084.7 L872.1 3086.9 L876.1 3089.2 L880.1 3091.4 L884.1 3093.5 L888.1 3095.7 L892.1 3097.9 L896.1 3100.0 L900.1 3102.1 L904.1 3104.1 L908.1 3106.2 L912.1 3108.2 L916.1 3110.2 L920.1 3112.1 L924.1 3114.1 L928.1 3116.0 L932.1 3117.9 L936.1 3119.7 L940.1 3121.5 L944.1 3123.3 L948.1 3125.1 L952.1 3126.8 L956.1 3128.5 L960.1 3130.2 L964.1 3131.8 L968.1 3133.5 L972.2 3135.0 L976.2 3136.6 L980.2 3138.2 L984.2 3139.7 L988.2 3141.1 L992.2 3142.6 L996.2 3144.0 L1000.2 3145.5 L1004.2 3146.8 L1008.2 3148.2 L1012.2 3149.5 L1016.2 3150.8 L1020.2 3152.1 L1024.2 3153.3 L1028.2 3154.5 L1032.2 3155.8 L1036.2 3156.9 L1040.2 3158.1 L1044.2 3159.3 L1048.2 3160.5 L1052.2 3161.6 L1056.2 3162.8 L1060.2 3164.0 L1064.2 3165.2 L1068.2 3166.4 L1072.2 3167.7 L1076.2 3169.0 L1080.2 3170.3 L1084.2 3171.7 L1088.2 3173.1 L1092.2 3174.6 L1096.2 3176.1 L1100.2 3177.7 L1104.2 3179.4 L1108.2 3181.2 L1112.2 3183.0 L1116.2 3185.0 L1120.2 3187.0 L1124.2 3189.1 L1128.2 3191.3 L1132.3 3193.5 L1136.3 3195.9 L1140.3 3198.3 L1144.3 3200.8 L1148.3 3203.4 L1152.3 3206.1 L1156.3 3208.8 L1160.3 3211.5 L1164.3 3214.3 L1168.3 3217.2 L1172.3 3220.0 L1176.3 3222.9 L1180.3 3225.7 L1184.3 3228.6 L1188.3 3231.4 L1192.3 3234.2 L1196.3 3237.0 L1200.3 3239.6 L1204.3 3242.3 L1208.3 3244.8 L1212.3 3247.3 L1216.3 3249.7 L1220.3 3251.9 L1224.3 3254.1 L1228.3 3256.2 L1232.3 3258.1 L1236.3 3260.0 L1240.3 3261.7 L1244.3 3263.3 L1248.3 3264.8 L1252.3 3266.2 L1256.3 3267.5 L1260.3 3268.7 L1264.3 3269.8 L1268.3 3270.8 L1272.3 3271.7 L1276.3 3272.6 L1280.3 3273.4 L1284.3 3274.2 L1288.3 3274.9 L1292.4 3275.6 L1296.4 3276.2 L1300.4 3276.8 L1304.4 3277.4 L1308.4 3278.0 L1312.4 3278.6 L1316.4 3279.2 L1320.4 3279.9 L1324.4 3280.5 L1328.4 3281.1 L1332.4 3281.8 L1336.4 3282.5 L1340.4 3283.2 L1344.4 3284.0 L1348.4 3284.7 L1352.4 3285.5 L1356.4 3286.3 L1360.4 3287.2 L1364.4 3288.1 L1368.4 3289.0 L1372.4 3289.9 L1376.4 3290.8 L1380.4 3291.8 L1384.4 3292.8 L1388.4 3293.7 L1392.4 3294.7 L1396.4 3295.7 L1400.4 3296.7 L1404.4 3297.6 L1408.4 3298.6 L1412.4 3299.6 L1416.4 3300.6 L1420.4 3301.5 L1424.4 3302.5 L1428.4 3303.4 L1432.4 3304.3 L1436.4 3305.3 L1440.4 3306.2 L1444.4 3307.1 L1448.4 3307.9 L1452.5 3308.8 L1456.5 3309.7 L1460.5 3310.5 L1464.5 3311.3 L1468.5 3312.2 L1472.5 3313.0 L1476.5 3313.8 L1480.5 3314.6 L1484.5 3315.4 L1488.5 3316.2 L1492.5 3317.0 L1496.5 3317.8 L1500.5 3318.5 L1504.5 3319.3 L1508.5 3320.1 L1512.5 3320.8 L1516.5 3321.6 L1520.5 3322.3 L1524.5 3323.0 L1528.5 3323.8 L1532.5 3324.5 L1536.5 3325.2 L1540.5 3325.9 L1544.5 3326.7 L1548.5 3327.4 L1552.5 3328.1 L1556.5 3328.8 L1560.5 3329.5 L1564.5 3330.1 L1568.5 3330.8 L1572.5 3331.5 L1576.5 3332.1 L1580.5 3332.8 L1584.5 3333.4 L1588.5 3334.1 L1592.5 3334.7 L1596.5 3335.3 L1600.5 3335.9 L1604.5 3336.5 L1608.5 3337.1 L1612.6 3337.6 L1616.6 3338.2 L1620.6 3338.7 L1624.6 3339.2 L1628.6 3339.7 L1632.6 3340.2 L1636.6 3340.7 L1640.6 3341.2 L1644.6 3341.6 L1648.6 3342.1 L1652.6 3342.5 L1656.6 3342.9 L1660.6 3343.3 L1664.6 3343.8 L1668.6 3344.2 L1672.6 3344.6 L1676.6 3345.0 L1680.6 3345.4 L1684.6 3345.7 L1688.6 3346.1 L1692.6 3346.5 L1696.6 3346.9 L1700.6 3347.2 L1704.6 3347.6 L1708.6 3347.9 L1712.6 3348.2 L1716.6 3348.6 L1720.6 3348.9 L1724.6 3349.2 L1728.6 3349.5 L1732.6 3349.8 L1736.6 3350.2 L1740.6 3350.5 L1744.6 3350.8 L1748.6 3351.1 L1752.6 3351.4 L1756.6 3351.7 L1760.6 3352.0 L1764.6 3352.3 L1768.6 3352.6 L1772.7 3352.9 L1776.7 3353.2 L1780.7 3353.5 L1784.7 3353.8 L1788.7 3354.1 L1792.7 3354.4 L1796.7 3354.6 L1800.7 3354.9 L1804.7 3355.2 L1808.7 3355.5 L1812.7 3355.8 L1816.7 3356.1 L1820.7 3356.4 L1824.7 3356.6 L1828.7 3356.9 L1832.7 3357.2 L1836.7 3357.5 L1840.7 3357.8 L1844.7 3358.1 L1848.7 3358.4 L1852.7 3358.7 L1856.7 3359.0 L1860.7 3359.3 L1864.7 3359.6 L1868.7 3359.9 L1872.7 3360.2 L1876.7 3360.6 L1880.7 3360.9 L1884.7 3361.2 L1888.7 3361.6 L1892.7 3361.9 L1896.7 3362.2 L1900.7 3362.6 L1904.7 3362.9 L1908.7 3363.3 L1912.7 3363.7 L1916.7 3364.0 L1920.7 3364.4 L1924.7 3364.8 L1928.7 3365.1 L1932.8 3365.5 L1936.8 3365.9 L1940.8 3366.3 L1944.8 3366.7 L1948.8 3367.1 L1952.8 3367.5 L1956.8 3367.8 L1960.8 3368.2 L1964.8 3368.6 L1968.8 3369.0 L1972.8 3369.4 L1976.8 3369.8 L1980.8 3370.2 L1984.8 3370.6 L1988.8 3371.1 L1992.8 3371.5 L1996.8 3371.9 L2000.8 3372.3 L2004.8 3372.7 L2008.8 3373.1 L2012.8 3373.5 L2016.8 3373.9 L2020.8 3374.3 L2024.8 3374.7 L2028.8 3375.1 L2032.8 3375.5 L2036.8 3375.9 L2040.8 3376.3 L2044.8 3376.7 L2048.8 3377.2 L2052.8 3377.6 L2056.8 3377.9 L2060.8 3378.3 L2064.8 3378.7 L2068.8 3379.1 L2072.8 3379.5 L2076.8 3379.9 L2080.8 3380.3 L2084.8 3380.7 L2088.8 3381.0 L2092.9 3381.4 L2096.9 3381.8 L2100.9 3382.1 L2104.9 3382.5 L2108.9 3382.8 L2112.9 3383.2 L2116.9 3383.5 L2120.9 3383.8 L2124.9 3384.2 L2128.9 3384.5 L2132.9 3384.8 L2136.9 3385.1 L2140.9 3385.4 L2144.9 3385.7 L2148.9 3386.0 L2152.9 3386.3 L2156.9 3386.5 L2160.9 3386.8 L2164.9 3387.0 L2168.9 3387.3 L2172.9 3387.5 L2176.9 3387.8 L2180.9 3388.0 L2184.9 3388.2 L2188.9 3388.5 L2192.9 3388.7 L2196.9 3388.9 L2200.9 3389.1 L2204.9 3389.3 L2208.9 3389.5 L2212.9 3389.6 L2216.9 3389.8 L2220.9 3390.0 L2224.9 3390.1 L2228.9 3390.3 L2232.9 3390.4 L2236.9 3390.6 L2240.9 3390.7 L2244.9 3390.9 L2248.9 3391.0 L2253.0 3391.1 L2257.0 3391.3 L2261.0 3391.4 L2265.0 3391.5 L2269.0 3391.6 L2273.0 3391.7 L2277.0 3391.8 L2281.0 3391.9 L2285.0 3392.0 L2289.0 3392.1 L2293.0 3392.2 L2297.0 3392.3 L2301.0 3392.4 L2305.0 3392.5 L2309.0 3392.6 L2313.0 3392.7 L2317.0 3392.7 L2321.0 3392.8 L2325.0 3392.9 L2329.0 3393.0 L2333.0 3393.1" stroke="#ff00ff"/>
<path d="M407.8 2250.2 L411.8 2259.3 L415.8 2271.1 L419.8 2282.9 L423.8 2294.7 L427.8 2306.5 L431.8 2318.3 L435.8 2330.1 L439.8 2341.9 L443.8 2353.7 L447.8 2365.5 L451.8 2377.2 L455.8 2389.0 L459.8 2400.7 L463.8 2412.5 L467.8 2424.2 L471.8 2435.9 L475.8 2447.6 L479.8 2459.3 L483.8 2470.9 L487.8 2482.5 L491.9 2494.1 L495.9 2505.7 L499.9 2517.2 L503.9 2528.6 L507.9 2540.1 L511.9 2551.4 L515.9 2562.7 L519.9 2574.0 L523.9 2585.2 L527.9 2596.3 L531.9 2607.3 L535.9 2618.3 L539.9 2629.2 L543.9 2640.0 L547.9 2650.8 L551.9 2661.4 L555.9 2672.0 L559.9 2682.4 L563.9 2692.8 L567.9 2703.1 L571.9 2713.3 L575.9 2723.3 L579.9 2733.3 L583.9 2743.1 L587.9 2752.9 L591.9 2762.5 L595.9 2772.0 L599.9 2781.4 L603.9 2790.7 L607.9 2799.9 L611.9 2809.0 L615.9 2817.9 L619.9 2826.7 L623.9 2835.4 L627.9 2843.9 L631.9 2852.3 L635.9 2860.6 L639.9 2868.8 L643.9 2876.8 L647.9 2884.7 L652.0 2892.5 L656.0 2900.1 L660.0 2907.6 L664.0 2915.0 L668.0 2922.1 L672.0 2929.2 L676.0 2936.1 L680.0 2942.8 L684.0 2949.4 L688.0 2955.9 L692.0 2962.1 L696.0 2968.2 L700.0 2974.2 L704.0 2980.0 L708.0 2985.6 L712.0 2991.0 L716.0 2996.2 L720.0 3001.3 L724.0 3006.2 L728.0 3010.9 L732.0 3015.5 L736.0 3019.8 L740.0 3024.0 L744.0 3028.1 L748.0 3031.9 L752.0 3035.6 L756.0 3039.1 L760.0 3042.5 L764.0 3045.8 L768.0 3048.9 L772.0 3051.9 L776.0 3054.8 L780.0 3057.5 L784.0 3060.2 L788.0 3062.8 L792.0 3065.4 L796.0 3067.8 L800.0 3070.2 L804.0 3072.6 L808.0 3074.9 L812.1 3077.2 L816.1 3079.5 L820.1 3081.7 L824.1 3083.9 L828.1 3086.1 L832.1 3088.3 L836.1 3090.5 L840.1 3092.7 L844.1 3094.8 L848.1 3097.0 L852.1 3099.2 L856.1 3101.3 L860.1 3103.5 L864.1 3105.6 L868.1 3107.8 L872.1 3109.9 L876.1 3112.0 L880.1 3114.1 L884.1 3116.3 L888.1 3118.4 L892.1 3120.5 L896.1 3122.6 L900.1 3124.7 L904.1 3126.7 L908.1 3128.8 L912.1 3130.8 L916.1 3132.9 L920.1 3134.9 L924.1 3136.9 L928.1 3138.8 L932.1 3140.8 L936.1 3142.7 L940.1 3144.6 L944.1 3146.5 L948.1 3148.3 L952.1 3150.1 L956.1 3151.9 L960.1 3153.7 L964.1 3155.4 L968.1 3157.0 L972.2 3158.7 L976.2 3160.3 L980.2 3161.8 L984.2 3163.3 L988.2 3164.8 L992.2 3166.2 L996.2 3167.5 L1000.2 3168.9 L1004.2 3170.2 L1008.2 3171.4 L1012.2 3172.7 L1016.2 3173.9 L1020.2 3175.0 L1024.2 3176.2 L1028.2 3177.3 L1032.2 3178.4 L1036.2 3179.4 L1040.2 3180.5 L1044.2 3181.6 L1048.2 3182.7 L1052.2 3183.7 L1056.2 3184.8 L1060.2 3185.9 L1064.2 3187.1 L1068.2 3188.2 L1072.2 3189.4 L1076.2 3190.6 L1080.2 3191.9 L1084.2 3193.2 L1088.2 3194.6 L1092.2 3196.0 L1096.2 3197.4 L1100.2 3199.0 L1104.2 3200.6 L1108.2 3202.2 L1112.2 3203.9 L1116.2 3205.7 L1120.2 3207.6 L1124.2 3209.5 L1128.2 3211.6 L1132.3 3213.6 L1136.3 3215.8 L1140.3 3218.0 L1144.3 3220.3 L1148.3 3222.7 L1152.3 3225.1 L1156.3 3227.5 L1160.3 3230.1 L1164.3 3232.6 L1168.3 3235.2 L1172.3 3237.8 L1176.3 3240.5 L1180.3 3243.1 L1184.3 3245.7 L1188.3 3248.3 L1192.3 3250.9 L1196.3 3253.4 L1200.3 3255.9 L1204.3 3258.3 L1208.3 3260.6 L1212.3 3262.9 L1216.3 3265.1 L1220.3 3267.1 L1224.3 3269.1 L1228.3 3271.0 L1232.3 3272.8 L1236.3 3274.5 L1240.3 3276.1 L1244.3 3277.6 L1248.3 3279.0 L1252.3 3280.2 L1256.3 3281.4 L1260.3 3282.6 L1264.3 3283.6 L1268.3 3284.5 L1272.3 3285.4 L1276.3 3286.2 L1280.3 3287.0 L1284.3 3287.7 L1288.3 3288.3 L1292.4 3288.9 L1296.4 3289.5 L1300.4 3290.1 L1304.4 3290.6 L1308.4 3291.1 L1312.4 3291.6 L1316.4 3292.1 L1320.4 3292.6 L1324.4 3293.1 L1328.4 3293.7 L1332.4 3294.2 L1336.4 3294.7 L1340.4 3295.3 L1344.4 3295.9 L1348.4 3296.5 L1352.4 3297.1 L1356.4 3297.8 L1360.4 3298.5 L1364.4 3299.2 L1368.4 3300.0 L1372.4 3300.8 L1376.4 3301.6 L1380.4 3302.4 L1384.4 3303.2 L1388.4 3304.1 L1392.4 3305.0 L1396.4 3305.8 L1400.4 3306.7 L1404.4 3307.7 L1408.4 3308.6 L1412.4 3309.5 L1416.4 3310.4 L1420.4 3311.3 L1424.4 3312.2 L1428.4 3313.2 L1432.4 3314.1 L1436.4 3314.9 L1440.4 3315.8 L1444.4 3316.7 L1448.4 3317.5 L1452.5 3318.4 L1456.5 3319.2 L1460.5 3320.1 L1464.5 3320.9 L1468.5 3321.7 L1472.5 3322.5 L1476.5 3323.2 L1480.5 3324.0 L1484.5 3324.8 L1488.5 3325.5 L1492.5 3326.3 L1496.5 3327.0 L1500.5 3327.7 L1504.5 3328.5 L1508.5 3329.2 L1512.5 3329.9 L1516.5 3330.6 L1520.5 3331.3 L1524.5 3332.0 L1528.5 3332.6 L1532.5 3333.3 L1536.5 3334.0 L1540.5 3334.6 L1544.5 3335.3 L1548.5 3335.9 L1552.5 3336.6 L1556.5 3337.2 L1560.5 3337.8 L1564.5 3338.4 L1568.5 3339.0 L1572.5 3339.6 L1576.5 3340.2 L1580.5 3340.8 L1584.5 3341.3 L1588.5 3341.9 L1592.5 3342.4 L1596.5 3343.0 L1600.5 3343.5 L1604.5 3344.0 L1608.5 3344.5 L1612.6 3345.0 L1616.6 3345.4 L1620.6 3345.9 L1624.6 3346.3 L1628.6 3346.7 L1632.6 3347.2 L1636.6 3347.6 L1640.6 3348.0 L1644.6 3348.3 L1648.6 3348.7 L1652.6 3349.1 L1656.6 3349.4 L1660.6 3349.7 L1664.6 3350.1 L1668.6 3350.4 L1672.6 3350.7 L1676.6 3351.0 L1680.6 3351.3 L1684.6 3351.6 L1688.6 3351.9 L1692.6 3352.2 L1696.6 3352.4 L1700.6 3352.7 L1704.6 3352.9 L1708.6 3353.2 L1712.6 3353.5 L1716.6 3353.7 L1720.6 3353.9 L1724.6 3354.2 L1728.6 3354.4 L1732.6 3354.7 L1736.6 3354.9 L1740.6 3355.1 L1744.6 3355.4 L1748.6 3355.6 L1752.6 3355.9 L1756.6 3356.1 L1760.6 3356.4 L1764.6 3356.6 L1768.6 3356.9 L1772.7 3357.2 L1776.7 3357.4 L1780.7 3357.7 L1784.7 3358.0 L1788.7 3358.2 L1792.7 3358.5 L1796.7 3358.8 L1800.7 3359.0 L1804.7 3359.3 L1808.7 3359.6 L1812.7 3359.9 L1816.7 3360.1 L1820.7 3360.4 L1824.7 3360.7 L1828.7 3361.0 L1832.7 3361.3 L1836.7 3361.6 L1840.7 3361.9 L1844.7 3362.2 L1848.7 3362.5 L1852.7 3362.8 L1856.7 3363.1 L1860.7 3363.4 L1864.7 3363.7 L1868.7 3364.0 L1872.7 3364.3 L1876.7 3364.6 L1880.7 3365.0 L1884.7 3365.3 L1888.7 3365.6 L1892.7 3365.9 L1896.7 3366.3 L1900.7 3366.6 L1904.7 3367.0 L1908.7 3367.3 L1912.7 3367.7 L1916.7 3368.0 L1920.7 3368.4 L1924.7 3368.7 L1928.7 3369.1 L1932.8 3369.5 L1936.8 3369.8 L1940.8 3370.2 L1944.8 3370.6 L1948.8 3371.0 L1952.8 3371.4 L1956.8 3371.8 L1960.8 3372.1 L1964.8 3372.5 L1968.8 3372.9 L1972.8 3373.3 L1976.8 3373.8 L1980.8 3374.2 L1984.8 3374.6 L1988.8 3375.0 L1992.8 3375.4 L1996.8 3375.8 L2000.8 3376.2 L2004.8 3376.6 L2008.8 3377.0 L2012.8 3377.4 L2016.8 3377.8 L2020.8 3378.2 L2024.8 3378.6 L2028.8 3379.0 L2032.8 3379.4 L2036.8 3379.8 L2040.8 3380.2 L2044.8 3380.6 L2048.8 3380.9 L2052.8 3381.3 L2056.8 3381.7 L2060.8 3382.0 L2064.8 3382.4 L2068.8 3382.7 L2072.8 3383.1 L2076.8 3383.4 L2080.8 3383.8 L2084.8 3384.1 L2088.8 3384.4 L2092.9 3384.8 L2096.9 3385.1 L2100.9 3385.4 L2104.9 3385.7 L2108.9 3386.1 L2112.9 3386.4 L2116.9 3386.7 L2120.9 3387.0 L2124.9 3387.3 L2128.9 3387.6 L2132.9 3387.9 L2136.9 3388.2 L2140.9 3388.5 L2144.9 3388.7 L2148.9 3389.0 L2152.9 3389.3 L2156.9 3389.6 L2160.9 3389.8 L2164.9 3390.1 L2168.9 3390.4 L2172.9 3390.6 L2176.9 3390.9 L2180.9 3391.1 L2184.9 3391.3 L2188.9 3391.6 L2192.9 3391.8 L2196.9 3392.0 L2200.9 3392.2 L2204.9 3392.4 L2208.9 3392.6 L2212.9 3392.8 L2216.9 3393.0 L2220.9 3393.2 L2224.9 3393.3 L2228.9 3393.5 L2232.9 3393.7 L2236.9 3393.8 L2240.9 3394.0 L2244.9 3394.1 L2248.9 3394.2 L2253.0 3394.4 L2257.0 3394.5 L2261.0 3394.6 L2265.0 3394.7 L2269.0 3394.9 L2273.0 3395.0 L2277.0 3395.1 L2281.0 3395.2 L2285.0 3395.3 L2289.0 3395.4 L2293.0 3395.5 L2297.0 3395.6 L2301.0 3395.7 L2305.0 3395.8 L2309.0 3395.9 L2313.0 3395.9 L2317.0 3396.0 L2321.0 3396.1 L2325.0 3396.2 L2329.0 3396.3 L2333.0 3396.4" stroke="#000000"/>
<path d="M407.8 2353.0 L411.8 2355.1 L415.8 2357.8 L419.8 2360.6 L423.8 2363.5 L427.8 2366.6 L431.8 2369.9 L435.8 2373.5 L439.8 2377.3 L443.8 2381.5 L447.8 2386.0 L451.8 2390.8 L455.8 2396.1 L459.8 2401.7 L463.8 2407.8 L467.8 2414.3 L471.8 2421.2 L475.8 2428.5 L479.8 2436.3 L483.8 2444.5 L487.8 2453.2 L491.9 2462.3 L495.9 2471.9 L499.9 2481.9 L503.9 2492.4 L507.9 2503.3 L511.9 2514.6 L515.9 2526.3 L519.9 2538.4 L523.9 2550.9 L527.9 2563.7 L531.9 2576.9 L535.9 2590.3 L539.9 2604.1 L543.9 2618.1 L547.9 2632.4 L551.9 2647.0 L555.9 2661.8 L559.9 2676.8 L563.9 2692.0 L567.9 2707.3 L571.9 2722.9 L575.9 2738.5 L579.9 2754.3 L583.9 2770.2 L587.9 2786.1 L591.9 2802.1 L595.9 2818.2 L599.9 2834.2 L603.9 2850.2 L607.9 2866.1 L611.9 2882.0 L615.9 2897.8 L619.9 2913.4 L623.9 2928.9 L627.9 2944.1 L631.9 2959.2 L635.9 2974.0 L639.9 2988.5 L643.9 3002.7 L647.9 3016.6 L652.0 3030.1 L656.0 3043.2 L660.0 3055.9 L664.0 3068.1 L668.0 3079.9 L672.0 3091.2 L676.0 3101.9 L680.0 3112.2 L684.0 3121.8 L688.0 3131.0 L692.0 3139.6 L696.0 3147.6 L700.0 3155.1 L704.0 3162.0 L708.0 3168.5 L712.0 3174.3 L716.0 3179.7 L720.0 3184.6 L724.0 3189.0 L728.0 3193.0 L732.0 3196.5 L736.0 3199.6 L740.0 3202.3 L744.0 3204.8 L748.0 3206.9 L752.0 3208.7 L756.0 3210.3 L760.0 3211.7 L764.0 3213.0 L768.0 3214.1 L772.0 3215.1 L776.0 3216.1 L780.0 3217.0 L784.0 3217.8 L788.0 3218.7 L792.0 3219.5 L796.0 3220.4 L800.0 3221.3 L804.0 3222.3 L808.0 3223.3 L812.1 3224.3 L816.1 3225.4 L820.1 3226.6 L824.1 3227.8 L828.1 3229.0 L832.1 3230.3 L836.1 3231.7 L840.1 3233.1 L844.1 3234.5 L848.1 3236.0 L852.1 3237.5 L856.1 3239.1 L860.1 3240.7 L864.1 3242.3 L868.1 3243.9 L872.1 3245.5 L876.1 3247.2 L880.1 3248.8 L884.1 3250.5 L888.1 3252.2 L892.1 3253.8 L896.1 3255.5 L900.1 3257.2 L904.1 3258.8 L908.1 3260.5 L912.1 3262.1 L916.1 3263.8 L920.1 3265.4 L924.1 3267.0 L928.1 3268.6 L932.1 3270.2 L936.1 3271.7 L940.1 3273.2 L944.1 3274.7 L948.1 3276.1 L952.1 3277.4 L956.1 3278.7 L960.1 3279.9 L964.1 3281.1 L968.1 3282.2 L972.2 3283.2 L976.2 3284.2 L980.2 3285.2 L984.2 3286.1 L988.2 3286.9 L992.2 3287.7 L996.2 3288.4 L1000.2 3289.1 L1004.2 3289.7 L1008.2 3290.2 L1012.2 3290.7 L1016.2 3291.2 L1020.2 3291.5 L1024.2 3291.8 L1028.2 3292.0 L1032.2 3292.2 L1036.2 3292.2 L1040.2 3292.3 L1044.2 3292.3 L1048.2 3292.2 L1052.2 3292.2 L1056.2 3292.0 L1060.2 3291.9 L1064.2 3291.7 L1068.2 3291.5 L1072.2 3291.3 L1076.2 3291.1 L1080.2 3290.9 L1084.2 3290.7 L1088.2 3290.6 L1092.2 3290.4 L1096.2 3290.3 L1100.2 3290.2 L1104.2 3290.1 L1108.2 3290.2 L1112.2 3290.2 L1116.2 3290.3 L1120.2 3290.5 L1124.2 3290.6 L1128.2 3290.9 L1132.3 3291.2 L1136.3 3291.5 L1140.3 3291.9 L1144.3 3292.4 L1148.3 3292.8 L1152.3 3293.4 L1156.3 3293.9 L1160.3 3294.5 L1164.3 3295.2 L1168.3 3295.8 L1172.3 3296.5 L1176.3 3297.1 L1180.3 3297.8 L1184.3 3298.5 L1188.3 3299.1 L1192.3 3299.7 L1196.3 3300.3 L1200.3 3300.9 L1204.3 3301.5 L1208.3 3302.0 L1212.3 3302.5 L1216.3 3303.1 L1220.3 3303.6 L1224.3 3304.1 L1228.3 3304.7 L1232.3 3305.2 L1236.3 3305.8 L1240.3 3306.3 L1244.3 3306.9 L1248.3 3307.5 L1252.3 3308.1 L1256.3 3308.7 L1260.3 3309.4 L1264.3 3310.0 L1268.3 3310.7 L1272.3 3311.4 L1276.3 3312.2 L1280.3 3312.9 L1284.3 3313.7 L1288.3 3314.5 L1292.4 3315.3 L1296.4 3316.2 L1300.4 3317.0 L1304.4 3317.9 L1308.4 3318.8 L1312.4 3319.8 L1316.4 3320.7 L1320.4 3321.7 L1324.4 3322.7 L1328.4 3323.8 L1332.4 3324.8 L1336.4 3325.9 L1340.4 3327.0 L1344.4 3328.1 L1348.4 3329.2 L1352.4 3330.4 L1356.4 3331.5 L1360.4 3332.7 L1364.4 3333.8 L1368.4 3335.0 L1372.4 3336.2 L1376.4 3337.3 L1380.4 3338.4 L1384.4 3339.6 L1388.4 3340.7 L1392.4 3341.7 L1396.4 3342.8 L1400.4 3343.8 L1404.4 3344.9 L1408.4 3345.9 L1412.4 3346.8 L1416.4 3347.8 L1420.4 3348.7 L1424.4 3349.6 L1428.4 3350.5 L1432.4 3351.3 L1436.4 3352.2 L1440.4 3353.0 L1444.4 3353.8 L1448.4 3354.6 L1452.5 3355.4 L1456.5 3356.1 L1460.5 3356.9 L1464.5 3357.6 L1468.5 3358.3 L1472.5 3359.1 L1476.5 3359.8 L1480.5 3360.5 L1484.5 3361.3 L1488.5 3362.0 L1492.5 3362.7 L1496.5 3363.4 L1500.5 3364.1 L1504.5 3364.8 L1508.5 3365.5 L1512.5 3366.2 L1516.5 3366.9 L1520.5 3367.6 L1524.5 3368.3 L1528.5 3368.9 L1532.5 3369.6 L1536.5 3370.2 L1540.5 3370.9 L1544.5 3371.5 L1548.5 3372.0 L1552.5 3372.6 L1556.5 3373.2 L1560.5 3373.7 L1564.5 3374.2 L1568.5 3374.7 L1572.5 3375.2 L1576.5 3375.7 L1580.5 3376.1 L1584.5 3376.5 L1588.5 3376.9 L1592.5 3377.3 L1596.5 3377.7 L1600.5 3378.1 L1604.5 3378.4 L1608.5 3378.8 L1612.6 3379.1 L1616.6 3379.5 L1620.6 3379.8 L1624.6 3380.1 L1628.6 3380.4 L1632.6 3380.7 L1636.6 3381.0 L1640.6 3381.3 L1644.6 3381.6 L1648.6 3381.9 L1652.6 3382.1 L1656.6 3382.4 L1660.6 3382.6 L1664.6 3382.8 L1668.6 3383.0 L1672.6 3383.2 L1676.6 3383.4 L1680.6 3383.6 L1684.6 3383.8 L1688.6 3384.0 L1692.6 3384.1 L1696.6 3384.3 L1700.6 3384.5 L1704.6 3384.7 L1708.6 3384.9 L1712.6 3385.1 L1716.6 3385.3 L1720.6 3385.5 L1724.6 3385.7 L1728.6 3385.9 L1732.6 3386.1 L1736.6 3386.3 L1740.6 3386.5 L1744.6 3386.8 L1748.6 3387.0 L1752.6 3387.2 L1756.6 3387.5 L1760.6 3387.7 L1764.6 3388.0 L1768.6 3388.2 L1772.7 3388.5 L1776.7 3388.7 L1780.7 3389.0 L1784.7 3389.2 L1788.7 3389.5 L1792.7 3389.7 L1796.7 3389.9 L1800.7 3390.2 L1804.7 3390.4 L1808.7 3390.6 L1812.7 3390.8 L1816.7 3391.0 L1820.7 3391.2 L1824.7 3391.5 L1828.7 3391.7 L1832.7 3391.9 L1836.7 3392.1 L1840.7 3392.3 L1844.7 3392.5 L1848.7 3392.6 L1852.7 3392.8 L1856.7 3393.0 L1860.7 3393.2 L1864.7 3393.4 L1868.7 3393.6 L1872.7 3393.8 L1876.7 3394.0 L1880.7 3394.2 L1884.7 3394.4 L1888.7 3394.6 L1892.7 3394.8 L1896.7 3394.9 L1900.7 3395.1 L1904.7 3395.3 L1908.7 3395.5 L1912.7 3395.7 L1916.7 3395.9 L1920.7 3396.1 L1924.7 3396.2 L1928.7 3396.4 L1932.8 3396.6 L1936.8 3396.8 L1940.8 3397.0 L1944.8 3397.1 L1948.8 3397.3 L1952.8 3397.5 L1956.8 3397.6 L1960.8 3397.8 L1964.8 3398.0 L1968.8 3398.1 L1972.8 3398.3 L1976.8 3398.5 L1980.8 3398.6 L1984.8 3398.8 L1988.8 3398.9 L1992.8 3399.1 L1996.8 3399.2 L2000.8 3399.3 L2004.8 3399.5 L2008.8 3399.6 L2012.8 3399.8 L2016.8 3399.9 L2020.8 3400.0 L2024.8 3400.1 L2028.8 3400.2 L2032.8 3400.4 L2036.8 3400.5 L2040.8 3400.6 L2044.8 3400.7 L2048.8 3400.8 L2052.8 3400.9 L2056.8 3400.9 L2060.8 3401.0 L2064.8 3401.1 L2068.8 3401.2 L2072.8 3401.3 L2076.8 3401.3 L2080.8 3401.4 L2084.8 3401.5 L2088.8 3401.6 L2092.9 3401.6 L2096.9 3401.7 L2100.9 3401.7 L2104.9 3401.8 L2108.9 3401.8 L2112.9 3401.9 L2116.9 3401.9 L2120.9 3402.0 L2124.9 3402.0 L2128.9 3402.1 L2132.9 3402.1 L2136.9 3402.2 L2140.9 3402.2 L2144.9 3402.2 L2148.9 3402.3 L2152.9 3402.3 L2156.9 3402.4 L2160.9 3402.4 L2164.9 3402.4 L2168.9 3402.5 L2172.9 3402.5 L2176.9 3402.5 L2180.9 3402.5 L2184.9 3402.6 L2188.9 3402.6 L2192.9 3402.6 L2196.9 3402.6 L2200.9 3402.7 L2204.9 3402.7 L2208.9 3402.7 L2212.9 3402.7 L2216.9 3402.7 L2220.9 3402.8 L2224.9 3402.8 L2228.9 3402.8 L2232.9 3402.8 L2236.9 3402.8 L2240.9 3402.8 L2244.9 3402.8 L2248.9 3402.9 L2253.0 3402.9 L2257.0 3402.9 L2261.0 3402.9 L2265.0 3402.9 L2269.0 3402.9 L2273.0 3402.9 L2277.0 3402.9 L2281.0 3402.9 L2285.0 3402.9 L2289.0 3402.9 L2293.0 3402.9 L2297.0 3403.0 L2301.0 3403.0 L2305.0 3403.0 L2309.0 3403.0 L2313.0 3403.0 L2317.0 3403.0 L2321.0 3403.0 L2325.0 3403.0 L2329.0 3403.0 L2333.0 3403.0" stroke="#008000"/>
<path d="M407.8 2519.1 L411.8 2518.5 L415.8 2517.8 L419.8 2517.3 L423.8 2516.9 L427.8 2516.9 L431.8 2517.0 L435.8 2517.5 L439.8 2518.5 L443.8 2519.9 L447.8 2521.8 L451.8 2524.2 L455.8 2527.0 L459.8 2530.3 L463.8 2534.2 L467.8 2538.5 L471.8 2543.3 L475.8 2548.6 L479.8 2554.4 L483.8 2560.6 L487.8 2567.4 L491.9 2574.6 L495.9 2582.4 L499.9 2590.7 L503.9 2599.4 L507.9 2608.7 L511.9 2618.5 L515.9 2628.7 L519.9 2639.4 L523.9 2650.5 L527.9 2662.1 L531.9 2674.0 L535.9 2686.4 L539.9 2699.0 L543.9 2712.0 L547.9 2725.2 L551.9 2738.7 L555.9 2752.5 L559.9 2766.5 L563.9 2780.6 L567.9 2795.0 L571.9 2809.5 L575.9 2824.1 L579.9 2838.8 L583.9 2853.6 L587.9 2868.4 L591.9 2883.3 L595.9 2898.2 L599.9 2913.1 L603.9 2928.0 L607.9 2942.9 L611.9 2957.7 L615.9 2972.4 L619.9 2987.1 L623.9 3001.6 L627.9 3016.0 L631.9 3030.2 L635.9 3044.2 L639.9 3057.9 L643.9 3071.4 L647.9 3084.7 L652.0 3097.6 L656.0 3110.2 L660.0 3122.3 L664.0 3134.1 L668.0 3145.4 L672.0 3156.2 L676.0 3166.5 L680.0 3176.4 L684.0 3185.7 L688.0 3194.4 L692.0 3202.7 L696.0 3210.4 L700.0 3217.5 L704.0 3224.2 L708.0 3230.2 L712.0 3235.8 L716.0 3240.9 L720.0 3245.5 L724.0 3249.5 L728.0 3253.2 L732.0 3256.4 L736.0 3259.1 L740.0 3261.5 L744.0 3263.6 L748.0 3265.3 L752.0 3266.8 L756.0 3268.1 L760.0 3269.1 L764.0 3270.0 L768.0 3270.7 L772.0 3271.4 L776.0 3272.0 L780.0 3272.5 L784.0 3273.1 L788.0 3273.6 L792.0 3274.2 L796.0 3274.9 L800.0 3275.7 L804.0 3276.5 L808.0 3277.4 L812.1 3278.4 L816.1 3279.5 L820.1 3280.7 L824.1 3281.9 L828.1 3283.2 L832.1 3284.5 L836.1 3285.9 L840.1 3287.4 L844.1 3288.9 L848.1 3290.5 L852.1 3292.1 L856.1 3293.7 L860.1 3295.3 L864.1 3297.0 L868.1 3298.7 L872.1 3300.3 L876.1 3302.0 L880.1 3303.7 L884.1 3305.3 L888.1 3307.0 L892.1 3308.6 L896.1 3310.1 L900.1 3311.7 L904.1 3313.1 L908.1 3314.6 L912.1 3315.9 L916.1 3317.2 L920.1 3318.5 L924.1 3319.7 L928.1 3320.8 L932.1 3321.9 L936.1 3322.9 L940.1 3323.9 L944.1 3324.8 L948.1 3325.7 L952.1 3326.6 L956.1 3327.4 L960.1 3328.2 L964.1 3328.9 L968.1 3329.6 L972.2 3330.3 L976.2 3330.9 L980.2 3331.4 L984.2 3331.9 L988.2 3332.4 L992.2 3332.7 L996.2 3333.0 L1000.2 3333.3 L1004.2 3333.5 L1008.2 3333.6 L1012.2 3333.6 L1016.2 3333.6 L1020.2 3333.5 L1024.2 3333.3 L1028.2 3333.1 L1032.2 3332.8 L1036.2 3332.5 L1040.2 3332.1 L1044.2 3331.7 L1048.2 3331.3 L1052.2 3330.8 L1056.2 3330.4 L1060.2 3329.9 L1064.2 3329.5 L1068.2 3329.0 L1072.2 3328.6 L1076.2 3328.2 L1080.2 3327.8 L1084.2 3327.4 L1088.2 3327.1 L1092.2 3326.9 L1096.2 3326.6 L1100.2 3326.5 L1104.2 3326.4 L1108.2 3326.4 L1112.2 3326.4 L1116.2 3326.4 L1120.2 3326.6 L1124.2 3326.8 L1128.2 3327.1 L1132.3 3327.4 L1136.3 3327.7 L1140.3 3328.2 L1144.3 3328.6 L1148.3 3329.1 L1152.3 3329.7 L1156.3 3330.2 L1160.3 3330.8 L1164.3 3331.4 L1168.3 3332.1 L1172.3 3332.7 L1176.3 3333.4 L1180.3 3334.0 L1184.3 3334.7 L1188.3 3335.3 L1192.3 3335.9 L1196.3 3336.5 L1200.3 3337.1 L1204.3 3337.7 L1208.3 3338.2 L1212.3 3338.8 L1216.3 3339.3 L1220.3 3339.8 L1224.3 3340.3 L1228.3 3340.8 L1232.3 3341.3 L1236.3 3341.8 L1240.3 3342.3 L1244.3 3342.7 L1248.3 3343.2 L1252.3 3343.7 L1256.3 3344.2 L1260.3 3344.7 L1264.3 3345.2 L1268.3 3345.7 L1272.3 3346.3 L1276.3 3346.8 L1280.3 3347.4 L1284.3 3348.0 L1288.3 3348.6 L1292.4 3349.2 L1296.4 3349.8 L1300.4 3350.5 L1304.4 3351.2 L1308.4 3351.9 L1312.4 3352.6 L1316.4 3353.4 L1320.4 3354.1 L1324.4 3354.9 L1328.4 3355.7 L1332.4 3356.5 L1336.4 3357.3 L1340.4 3358.1 L1344.4 3358.9 L1348.4 3359.8 L1352.4 3360.6 L1356.4 3361.4 L1360.4 3362.2 L1364.4 3363.0 L1368.4 3363.8 L1372.4 3364.6 L1376.4 3365.4 L1380.4 3366.1 L1384.4 3366.8 L1388.4 3367.5 L1392.4 3368.2 L1396.4 3368.9 L1400.4 3369.5 L1404.4 3370.1 L1408.4 3370.7 L1412.4 3371.3 L1416.4 3371.9 L1420.4 3372.4 L1424.4 3373.0 L1428.4 3373.5 L1432.4 3374.1 L1436.4 3374.6 L1440.4 3375.1 L1444.4 3375.6 L1448.4 3376.1 L1452.5 3376.7 L1456.5 3377.2 L1460.5 3377.7 L1464.5 3378.2 L1468.5 3378.6 L1472.5 3379.1 L1476.5 3379.6 L1480.5 3380.1 L1484.5 3380.6 L1488.5 3381.1 L1492.5 3381.6 L1496.5 3382.0 L1500.5 3382.5 L1504.5 3383.0 L1508.5 3383.5 L1512.5 3383.9 L1516.5 3384.4 L1520.5 3384.9 L1524.5 3385.3 L1528.5 3385.8 L1532.5 3386.2 L1536.5 3386.7 L1540.5 3387.1 L1544.5 3387.6 L1548.5 3388.0 L1552.5 3388.4 L1556.5 3388.8 L1560.5 3389.3 L1564.5 3389.6 L1568.5 3390.0 L1572.5 3390.4 L1576.5 3390.7 L1580.5 3391.1 L1584.5 3391.4 L1588.5 3391.7 L1592.5 3392.0 L1596.5 3392.2 L1600.5 3392.5 L1604.5 3392.7 L1608.5 3393.0 L1612.6 3393.2 L1616.6 3393.4 L1620.6 3393.6 L1624.6 3393.8 L1628.6 3393.9 L1632.6 3394.1 L1636.6 3394.3 L1640.6 3394.4 L1644.6 3394.6 L1648.6 3394.7 L1652.6 3394.8 L1656.6 3395.0 L1660.6 3395.1 L1664.6 3395.2 L1668.6 3395.3 L1672.6 3395.4 L1676.6 3395.5 L1680.6 3395.6 L1684.6 3395.7 L1688.6 3395.8 L1692.6 3395.9 L1696.6 3395.9 L1700.6 3396.0 L1704.6 3396.1 L1708.6 3396.2 L1712.6 3396.3 L1716.6 3396.5 L1720.6 3396.6 L1724.6 3396.7 L1728.6 3396.8 L1732.6 3396.9 L1736.6 3397.1 L1740.6 3397.2 L1744.6 3397.3 L1748.6 3397.5 L1752.6 3397.6 L1756.6 3397.8 L1760.6 3398.0 L1764.6 3398.1 L1768.6 3398.3 L1772.7 3398.5 L1776.7 3398.6 L1780.7 3398.8 L1784.7 3399.0 L1788.7 3399.2 L1792.7 3399.3 L1796.7 3399.5 L1800.7 3399.7 L1804.7 3399.9 L1808.7 3400.0 L1812.7 3400.2 L1816.7 3400.4 L1820.7 3400.5 L1824.7 3400.7 L1828.7 3400.9 L1832.7 3401.0 L1836.7 3401.2 L1840.7 3401.4 L1844.7 3401.5 L1848.7 3401.7 L1852.7 3401.8 L1856.7 3402.0 L1860.7 3402.1 L1864.7 3402.3 L1868.7 3402.4 L1872.7 3402.5 L1876.7 3402.7 L1880.7 3402.8 L1884.7 3402.9 L1888.7 3403.0 L1892.7 3403.1 L1896.7 3403.3 L1900.7 3403.4 L1904.7 3403.5 L1908.7 3403.6 L1912.7 3403.7 L1916.7 3403.8 L1920.7 3403.9 L1924.7 3403.9 L1928.7 3404.0 L1932.8 3404.1 L1936.8 3404.2 L1940.8 3404.3 L1944.8 3404.3 L1948.8 3404.4 L1952.8 3404.5 L1956.8 3404.6 L1960.8 3404.6 L1964.8 3404.7 L1968.8 3404.7 L1972.8 3404.8 L1976.8 3404.8 L1980.8 3404.9 L1984.8 3404.9 L1988.8 3405.0 L1992.8 3405.0 L1996.8 3405.1 L2000.8 3405.1 L2004.8 3405.1 L2008.8 3405.2 L2012.8 3405.2 L2016.8 3405.2 L2020.8 3405.3 L2024.8 3405.3 L2028.8 3405.3 L2032.8 3405.4 L2036.8 3405.4 L2040.8 3405.4 L2044.8 3405.5 L2048.8 3405.5 L2052.8 3405.5 L2056.8 3405.5 L2060.8 3405.6 L2064.8 3405.6 L2068.8 3405.6 L2072.8 3405.6 L2076.8 3405.7 L2080.8 3405.7 L2084.8 3405.7 L2088.8 3405.7 L2092.9 3405.7 L2096.9 3405.8 L2100.9 3405.8 L2104.9 3405.8 L2108.9 3405.8 L2112.9 3405.9 L2116.9 3405.9 L2120.9 3405.9 L2124.9 3405.9 L2128.9 3405.9 L2132.9 3405.9 L2136.9 3406.0 L2140.9 3406.0 L2144.9 3406.0 L2148.9 3406.0 L2152.9 3406.0 L2156.9 3406.0 L2160.9 3406.1 L2164.9 3406.1 L2168.9 3406.1 L2172.9 3406.1 L2176.9 3406.1 L2180.9 3406.1 L2184.9 3406.1 L2188.9 3406.2 L2192.9 3406.2 L2196.9 3406.2 L2200.9 3406.2 L2204.9 3406.2 L2208.9 3406.2 L2212.9 3406.2 L2216.9 3406.2 L2220.9 3406.2 L2224.9 3406.3 L2228.9 3406.3 L2232.9 3406.3 L2236.9 3406.3 L2240.9 3406.3 L2244.9 3406.3 L2248.9 3406.3 L2253.0 3406.3 L2257.0 3406.3 L2261.0 3406.4 L2265.0 3406.4 L2269.0 3406.4 L2273.0 3406.4 L2277.0 3406.4 L2281.0 3406.4 L2285.0 3406.4 L2289.0 3406.4 L2293.0 3406.4 L2297.0 3406.4 L2301.0 3406.4 L2305.0 3406.4 L2309.0 3406.5 L2313.0 3406.5 L2317.0 3406.5 L2321.0 3406.5 L2325.0 3406.5 L2329.0 3406.5 L2333.0 3406.5" stroke="#0000ff"/>
</g>
<g stroke="#000" stroke-width="8.6">
<line x1="365.4" y1="3438.8" x2="404.4" y2="3438.8"/>
<line x1="385.9" y1="3391.1" x2="404.4" y2="3391.1"/>
<line x1="385.9" y1="3343.4" x2="404.4" y2="3343.4"/>
<line x1="385.9" y1="3295.6" x2="404.4" y2="3295.6"/>
<line x1="385.9" y1="3247.9" x2="404.4" y2="3247.9"/>
<line x1="365.4" y1="3200.2" x2="404.4" y2="3200.2"/>
<line x1="385.9" y1="3152.5" x2="404.4" y2="3152.5"/>
<line x1="385.9" y1="3104.8" x2="404.4" y2="3104.8"/>
<line x1="385.9" y1="3057.0" x2="404.4" y2="3057.0"/>
<line x1="385.9" y1="3009.3" x2="404.4" y2="3009.3"/>
<line x1="365.4" y1="2961.6" x2="404.4" y2="2961.6"/>
<line x1="385.9" y1="2913.9" x2="404.4" y2="2913.9"/>
<line x1="385.9" y1="2866.2" x2="404.4" y2="2866.2"/>
<line x1="385.9" y1="2818.4" x2="404.4" y2="2818.4"/>
<line x1="385.9" y1="2770.7" x2="404.4" y2="2770.7"/>
<line x1="365.4" y1="2723.0" x2="404.4" y2="2723.0"/>
<line x1="385.9" y1="2675.3" x2="404.4" y2="2675.3"/>
<line x1="385.9" y1="2627.6" x2="404.4" y2="2627.6"/>
<line x1="385.9" y1="2579.8" x2="404.4" y2="2579.8"/>
<line x1="385.9" y1="2532.1" x2="404.4" y2="2532.1"/>
<line x1="365.4" y1="2484.4" x2="404.4" y2="2484.4"/>
<line x1="385.9" y1="2436.7" x2="404.4" y2="2436.7"/>
<line x1="385.9" y1="2389.0" x2="404.4" y2="2389.0"/>
<line x1="385.9" y1="2341.2" x2="404.4" y2="2341.2"/>
<line x1="385.9" y1="2293.5" x2="404.4" y2="2293.5"/>
<line x1="365.4" y1="2245.8" x2="404.4" y2="2245.8"/>
<line x1="385.9" y1="2198.1" x2="404.4" y2="2198.1"/>
<line x1="385.9" y1="2150.4" x2="404.4" y2="2150.4"/>
<line x1="385.9" y1="2102.6" x2="404.4" y2="2102.6"/>
<line x1="385.9" y1="2054.9" x2="404.4" y2="2054.9"/>
<line x1="365.4" y1="2007.2" x2="404.4" y2="2007.2"/>
<line x1="407.8" y1="3441.9" x2="407.8" y2="3480.9"/>
<line x1="484.8" y1="3441.9" x2="484.8" y2="3460.4"/>
<line x1="561.8" y1="3441.9" x2="561.8" y2="3460.4"/>
<line x1="638.8" y1="3441.9" x2="638.8" y2="3460.4"/>
<line x1="715.8" y1="3441.9" x2="715.8" y2="3460.4"/>
<line x1="792.8" y1="3441.9" x2="792.8" y2="3480.9"/>
<line x1="869.9" y1="3441.9" x2="869.9" y2="3460.4"/>
<line x1="946.9" y1="3441.9" x2="946.9" y2="3460.4"/>
<line x1="1023.9" y1="3441.9" x2="1023.9" y2="3460.4"/>
<line x1="1100.9" y1="3441.9" x2="1100.9" y2="3460.4"/>
<line x1="1177.9" y1="3441.9" x2="1177.9" y2="3480.9"/>
<line x1="1254.9" y1="3441.9" x2="1254.9" y2="3460.4"/>
<line x1="1331.9" y1="3441.9" x2="1331.9" y2="3460.4"/>
<line x1="1408.9" y1="3441.9" x2="1408.9" y2="3460.4"/>
<line x1="1485.9" y1="3441.9" x2="1485.9" y2="3460.4"/>
<line x1="1562.9" y1="3441.9" x2="1562.9" y2="3480.9"/>
<line x1="1640.0" y1="3441.9" x2="1640.0" y2="3460.4"/>
<line x1="1717.0" y1="3441.9" x2="1717.0" y2="3460.4"/>
<line x1="1794.0" y1="3441.9" x2="1794.0" y2="3460.4"/>
<line x1="1871.0" y1="3441.9" x2="1871.0" y2="3460.4"/>
<line x1="1948.0" y1="3441.9" x2="1948.0" y2="3480.9"/>
<line x1="2025.0" y1="3441.9" x2="2025.0" y2="3460.4"/>
<line x1="2102.0" y1="3441.9" x2="2102.0" y2="3460.4"/>
<line x1="2179.0" y1="3441.9" x2="2179.0" y2="3460.4"/>
<line x1="2256.0" y1="3441.9" x2="2256.0" y2="3460.4"/>
<line x1="2333.1" y1="3441.9" x2="2333.1" y2="3480.9"/>
</g>
<text transform="translate(337.0 3467.8) scale(0.98 1)" font-size="97" text-anchor="end">0.0</text>
<text transform="translate(337.0 3229.2) scale(0.98 1)" font-size="97" text-anchor="end">0.1</text>
<text transform="translate(337.0 2990.6) scale(0.98 1)" font-size="97" text-anchor="end">0.2</text>
<text transform="translate(337.0 2752.0) scale(0.98 1)" font-size="97" text-anchor="end">0.3</text>
<text transform="translate(337.0 2513.4) scale(0.98 1)" font-size="97" text-anchor="end">0.4</text>
<text transform="translate(337.0 2274.8) scale(0.98 1)" font-size="97" text-anchor="end">0.5</text>
<text transform="translate(337.0 2036.2) scale(0.98 1)" font-size="97" text-anchor="end">0.6</text>
<text transform="translate(407.8 3582.2) scale(0.98 1)" font-size="97" text-anchor="middle">300</text>
<text transform="translate(792.8 3582.2) scale(0.98 1)" font-size="97" text-anchor="middle">400</text>
<text transform="translate(1177.9 3582.2) scale(0.98 1)" font-size="97" text-anchor="middle">500</text>
<text transform="translate(1562.9 3582.2) scale(0.98 1)" font-size="97" text-anchor="middle">600</text>
<text transform="translate(1948.0 3582.2) scale(0.98 1)" font-size="97" text-anchor="middle">700</text>
<text transform="translate(2333.1 3582.2) scale(0.98 1)" font-size="97" text-anchor="middle">800</text>
<text transform="translate(1371.0 3717.6)" font-size="101" text-anchor="middle">Wavelength (nm)</text>
<text transform="translate(175.6 2721.0) rotate(-90)" font-size="101.5" text-anchor="middle">Abs.</text>
<text transform="translate(64.5 2018.8) scale(1.01 1)" font-size="112" text-anchor="start">(b)</text>
<line x1="1703.5" y1="2132.8" x2="1880.5" y2="2132.8" stroke="#000000" stroke-width="10"/>
<text transform="translate(1898.0 2158.6) scale(0.975 1)" font-size="96.5" text-anchor="start">Original</text>
<line x1="1703.5" y1="2248.7" x2="1880.5" y2="2248.7" stroke="#ff00ff" stroke-width="10"/>
<text transform="translate(1898.0 2274.5) scale(0.975 1)" font-size="96.5" text-anchor="start">0.6 V</text>
<line x1="1703.5" y1="2364.5" x2="1880.5" y2="2364.5" stroke="#800000" stroke-width="10"/>
<text transform="translate(1898.0 2390.3) scale(0.975 1)" font-size="96.5" text-anchor="start">1.0 V</text>
<line x1="1703.5" y1="2480.4" x2="1880.5" y2="2480.4" stroke="#ff0000" stroke-width="10"/>
<text transform="translate(1898.0 2506.2) scale(0.975 1)" font-size="96.5" text-anchor="start">1.7 V</text>
<line x1="1703.5" y1="2596.2" x2="1880.5" y2="2596.2" stroke="#008000" stroke-width="10"/>
<text transform="translate(1898.0 2622.0) scale(0.975 1)" font-size="96.5" text-anchor="start">0 V</text>
<line x1="1703.5" y1="2712.1" x2="1880.5" y2="2712.1" stroke="#0000ff" stroke-width="10"/>
<text transform="translate(1898.0 2737.9) scale(0.975 1)" font-size="96.5" text-anchor="start">-1.1 V</text>
</svg></body></html>
